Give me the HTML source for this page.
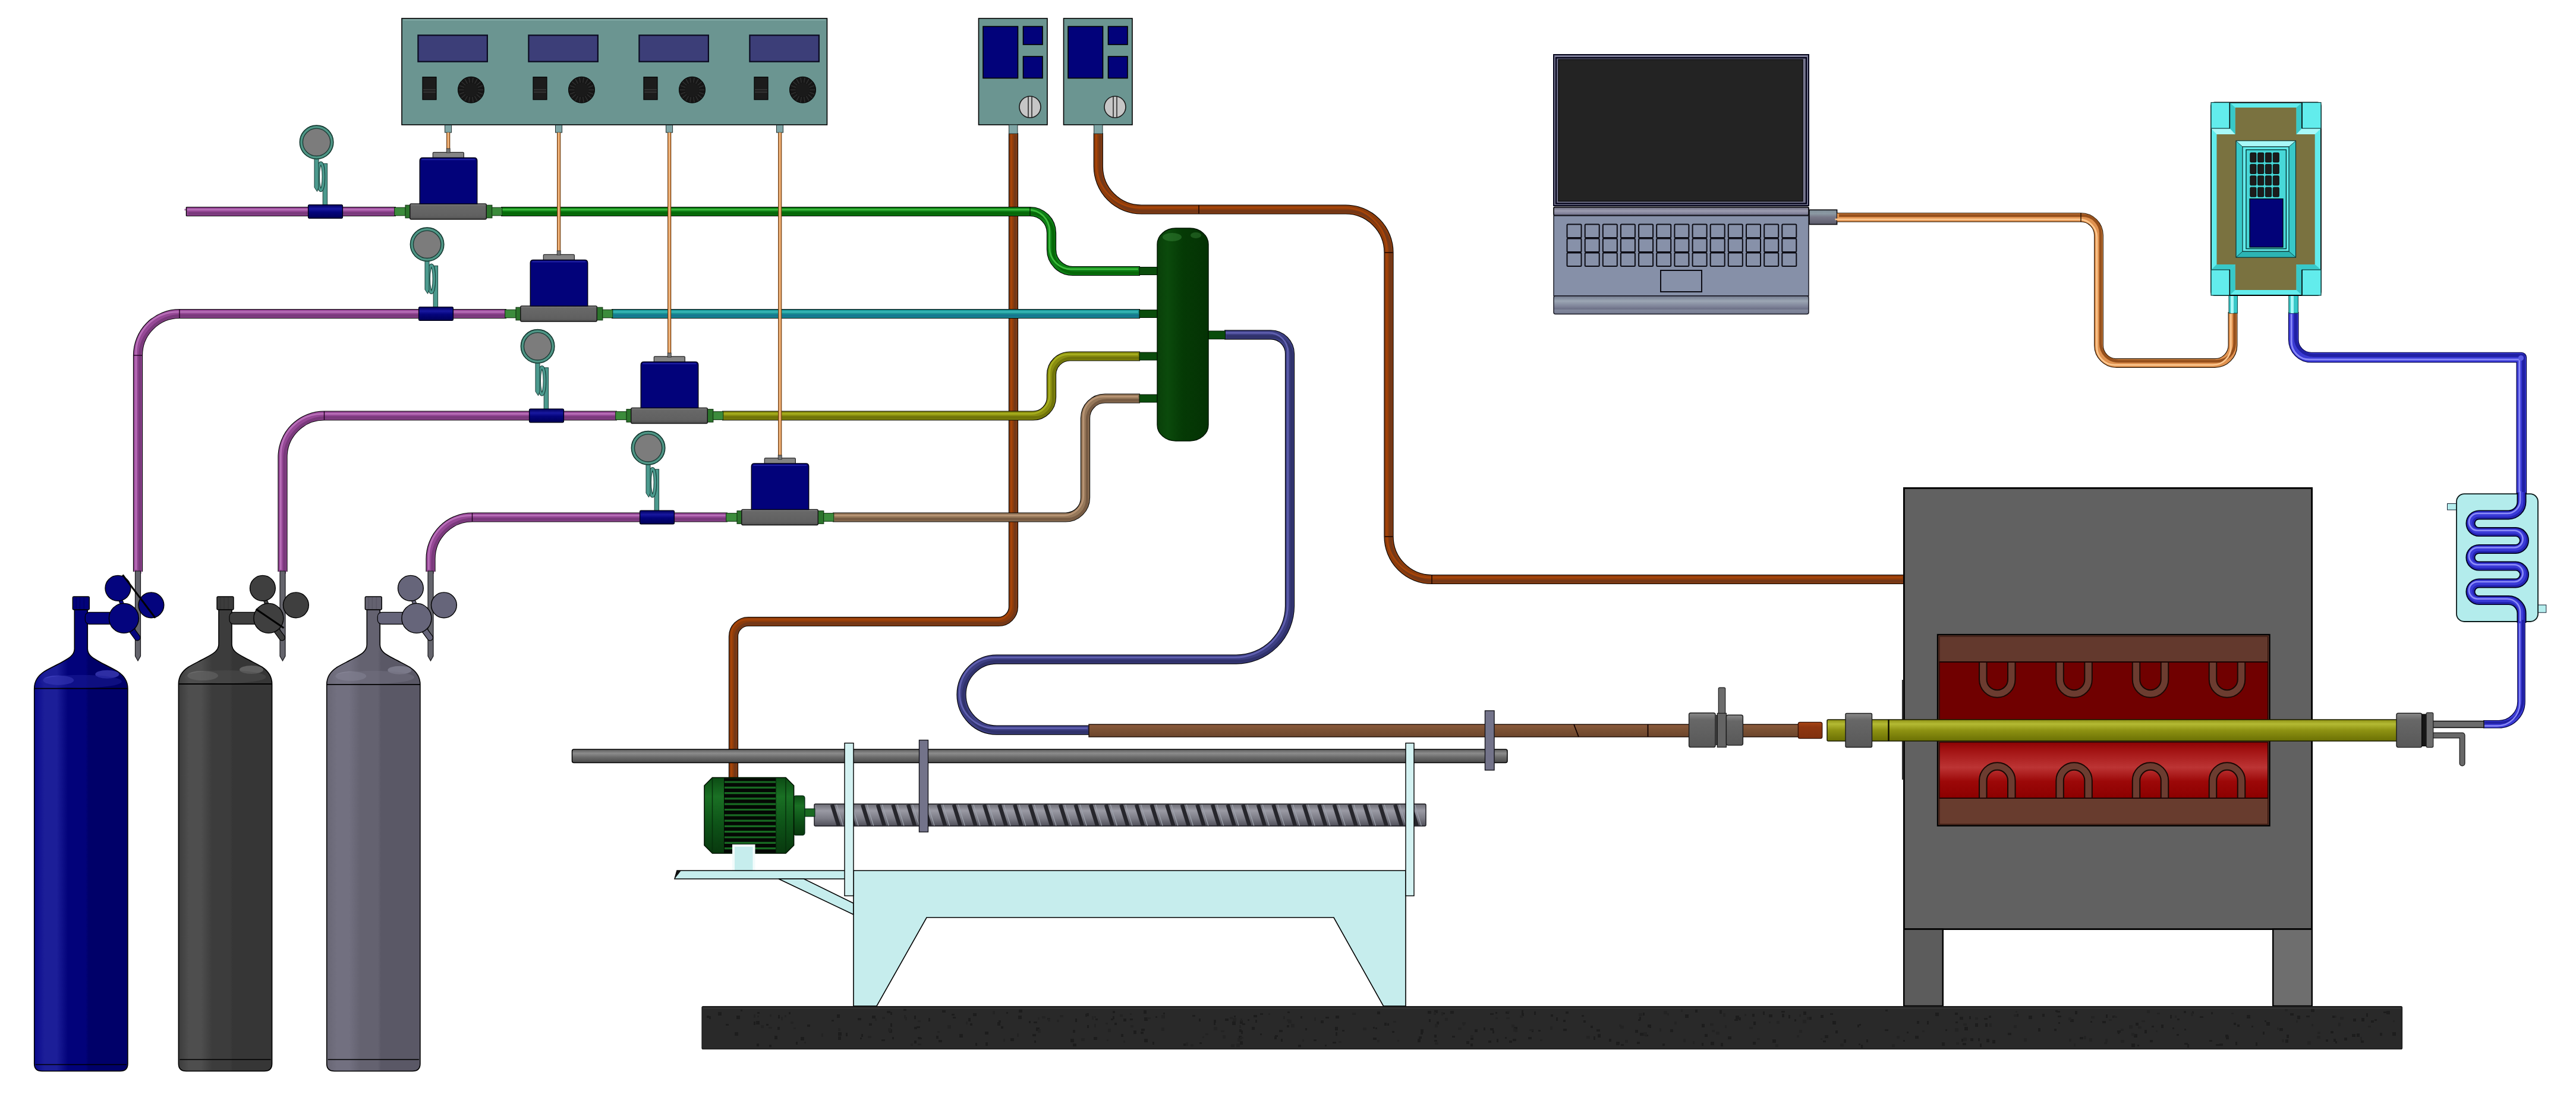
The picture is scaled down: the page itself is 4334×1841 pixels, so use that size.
<!DOCTYPE html>
<html><head><meta charset="utf-8"><title>Experimental setup schematic</title>
<style>html,body{margin:0;padding:0;background:#fff}svg{display:block}</style></head>
<body><svg width="4334" height="1841" viewBox="0 0 4334 1841">
<defs><linearGradient id="gman" x1="0" y1="0" x2="1" y2="0"><stop offset="0" stop-color="#093f09"/><stop offset="0.2" stop-color="#0b4a0c"/><stop offset="0.5" stop-color="#053a05"/><stop offset="1" stop-color="#043204"/></linearGradient><linearGradient id="gbase" x1="0" y1="0" x2="0" y2="1"><stop offset="0" stop-color="#8c8c8c"/><stop offset="0.12" stop-color="#686868"/><stop offset="0.8" stop-color="#606060"/><stop offset="1" stop-color="#505050"/></linearGradient><linearGradient id="gcoup" x1="0" y1="0" x2="0" y2="1"><stop offset="0" stop-color="#00005c"/><stop offset="0.3" stop-color="#1818a0"/><stop offset="0.55" stop-color="#04047c"/><stop offset="1" stop-color="#000058"/></linearGradient><linearGradient id="glapf" x1="0" y1="0" x2="0" y2="1"><stop offset="0" stop-color="#70788c"/><stop offset="0.28" stop-color="#9ca6b4"/><stop offset="0.62" stop-color="#7a7e94"/><stop offset="0.72" stop-color="#6c7086"/><stop offset="0.78" stop-color="#82889c"/><stop offset="1" stop-color="#747a90"/></linearGradient><linearGradient id="ghinge" x1="0" y1="0" x2="0" y2="1"><stop offset="0" stop-color="#6c6c80"/><stop offset="0.45" stop-color="#9c9cb0"/><stop offset="1" stop-color="#70708a"/></linearGradient><linearGradient id="gconn" x1="0" y1="0" x2="0" y2="1"><stop offset="0" stop-color="#7c8a94"/><stop offset="0.25" stop-color="#8c9aa4"/><stop offset="0.5" stop-color="#787888"/><stop offset="1" stop-color="#5c5c6c"/></linearGradient><linearGradient id="gred" x1="0" y1="0" x2="0" y2="1"><stop offset="0" stop-color="#8a0404"/><stop offset="0.12" stop-color="#a01010"/><stop offset="0.45" stop-color="#bc3434"/><stop offset="0.7" stop-color="#9c0808"/><stop offset="1" stop-color="#8c0000"/></linearGradient><linearGradient id="gol" x1="0" y1="0" x2="0" y2="1"><stop offset="0" stop-color="#8c9014"/><stop offset="0.2" stop-color="#b4ba34"/><stop offset="0.5" stop-color="#8e9212"/><stop offset="1" stop-color="#6a7004"/></linearGradient><linearGradient id="ggrey" x1="0" y1="0" x2="0" y2="1"><stop offset="0" stop-color="#8a8a8a"/><stop offset="0.2" stop-color="#676767"/><stop offset="1" stop-color="#585858"/></linearGradient><linearGradient id="gbrn" x1="0" y1="0" x2="0" y2="1"><stop offset="0" stop-color="#8c5a3c"/><stop offset="0.4" stop-color="#7c5234"/><stop offset="1" stop-color="#6c452c"/></linearGradient><linearGradient id="grust" x1="0" y1="0" x2="0" y2="1"><stop offset="0" stop-color="#a84414"/><stop offset="0.3" stop-color="#8e3610"/><stop offset="1" stop-color="#80300e"/></linearGradient><linearGradient id="grail" x1="0" y1="0" x2="0" y2="1"><stop offset="0" stop-color="#5c5c5c"/><stop offset="0.3" stop-color="#8c8c8c"/><stop offset="0.6" stop-color="#6a6a6a"/><stop offset="1" stop-color="#484848"/></linearGradient><linearGradient id="gscr" x1="0" y1="0" x2="0" y2="1"><stop offset="0" stop-color="#6c6c74"/><stop offset="0.3" stop-color="#9a9aa4"/><stop offset="0.65" stop-color="#7c7c86"/><stop offset="1" stop-color="#50505a"/></linearGradient><linearGradient id="gmot" x1="0" y1="0" x2="0" y2="1"><stop offset="0" stop-color="#0c4c14"/><stop offset="0.25" stop-color="#1a7024"/><stop offset="0.6" stop-color="#0e5418"/><stop offset="1" stop-color="#08380e"/></linearGradient><linearGradient id="gc136" x1="0" y1="0" x2="1" y2="0"><stop offset="0" stop-color="#08088c"/><stop offset="0.11" stop-color="#1c1e98"/><stop offset="0.24" stop-color="#1c1e98"/><stop offset="0.36" stop-color="#02027a"/><stop offset="0.55" stop-color="#02027a"/><stop offset="0.58" stop-color="#000069"/><stop offset="1" stop-color="#000069"/></linearGradient><linearGradient id="gc379" x1="0" y1="0" x2="1" y2="0"><stop offset="0" stop-color="#3c3c3c"/><stop offset="0.11" stop-color="#4e4e4e"/><stop offset="0.24" stop-color="#4e4e4e"/><stop offset="0.36" stop-color="#3c3c3c"/><stop offset="0.55" stop-color="#3c3c3c"/><stop offset="0.58" stop-color="#363636"/><stop offset="1" stop-color="#363636"/></linearGradient><linearGradient id="gc628" x1="0" y1="0" x2="1" y2="0"><stop offset="0" stop-color="#686674"/><stop offset="0.11" stop-color="#727080"/><stop offset="0.24" stop-color="#727080"/><stop offset="0.36" stop-color="#646270"/><stop offset="0.55" stop-color="#646270"/><stop offset="0.58" stop-color="#5a5866"/><stop offset="1" stop-color="#5a5866"/></linearGradient></defs>
<rect width="4334" height="1841" fill="#fff"/>
<path d="M1705,224 V1021 A25,25 0 0 1 1680,1046 H1259 A25,25 0 0 0 1234,1071 V1311" fill="none" stroke="#000" stroke-width="16.2" stroke-linecap="butt" stroke-linejoin="round"/>
<path d="M1705,224 V1021 A25,25 0 0 1 1680,1046 H1259 A25,25 0 0 0 1234,1071 V1311" fill="none" stroke="#8c3c0c" stroke-width="14.0" stroke-linecap="butt" stroke-linejoin="round"/>
<path d="M1705,224 V1021 A25,25 0 0 1 1680,1046 H1259 A25,25 0 0 0 1234,1071 V1311" fill="none" stroke="#743818" stroke-width="4.859999999999999" stroke-linecap="butt" stroke-linejoin="round" transform="translate(3.2,3.2)"/>
<path d="M1705,224 V1021 A25,25 0 0 1 1680,1046 H1259 A25,25 0 0 0 1234,1071 V1311" fill="none" stroke="#a64408" stroke-width="2.754" stroke-linecap="butt" stroke-linejoin="round" transform="translate(-3.2,-3.2)"/>
<path d="M1847.8,224 V280 A72.5,72.5 0 0 0 1920.3,352.5 H2264 A72.5,72.5 0 0 1 2336.5,425 V902.5 A72.5,72.5 0 0 0 2409,975 H3204" fill="none" stroke="#000" stroke-width="16.2" stroke-linecap="butt" stroke-linejoin="round"/>
<path d="M1847.8,224 V280 A72.5,72.5 0 0 0 1920.3,352.5 H2264 A72.5,72.5 0 0 1 2336.5,425 V902.5 A72.5,72.5 0 0 0 2409,975 H3204" fill="none" stroke="#8c3c0c" stroke-width="14.0" stroke-linecap="butt" stroke-linejoin="round"/>
<path d="M1847.8,224 V280 A72.5,72.5 0 0 0 1920.3,352.5 H2264 A72.5,72.5 0 0 1 2336.5,425 V902.5 A72.5,72.5 0 0 0 2409,975 H3204" fill="none" stroke="#743818" stroke-width="4.859999999999999" stroke-linecap="butt" stroke-linejoin="round" transform="translate(3.2,3.2)"/>
<path d="M1847.8,224 V280 A72.5,72.5 0 0 0 1920.3,352.5 H2264 A72.5,72.5 0 0 1 2336.5,425 V902.5 A72.5,72.5 0 0 0 2409,975 H3204" fill="none" stroke="#a64408" stroke-width="2.754" stroke-linecap="butt" stroke-linejoin="round" transform="translate(-3.2,-3.2)"/>
<path d="M2017,345.5 V359.5" fill="none" stroke="#200800" stroke-width="1.6"/>
<path d="M2329.5,425 H2343.5" fill="none" stroke="#200800" stroke-width="1.6"/>
<path d="M2329.5,903 H2343.5" fill="none" stroke="#200800" stroke-width="1.6"/>
<path d="M2409,968 V982" fill="none" stroke="#200800" stroke-width="1.6"/>
<path d="M313.5,356 H666" fill="none" stroke="#000" stroke-width="16.2" stroke-linecap="butt" stroke-linejoin="round"/>
<path d="M313.5,356 H666" fill="none" stroke="#964896" stroke-width="14.0" stroke-linecap="butt" stroke-linejoin="round"/>
<path d="M313.5,356 H666" fill="none" stroke="#7a3a7c" stroke-width="4.859999999999999" stroke-linecap="butt" stroke-linejoin="round" transform="translate(3.2,3.2)"/>
<path d="M313.5,356 H666" fill="none" stroke="#b870b8" stroke-width="2.754" stroke-linecap="butt" stroke-linejoin="round" transform="translate(-3.2,-3.2)"/>
<path d="M313.5,348.5 V363.5" fill="none" stroke="#000" stroke-width="1.5"/>
<path d="M232,962 V598 A70,70 0 0 1 302,528 H852" fill="none" stroke="#000" stroke-width="16.2" stroke-linecap="butt" stroke-linejoin="round"/>
<path d="M232,962 V598 A70,70 0 0 1 302,528 H852" fill="none" stroke="#964896" stroke-width="14.0" stroke-linecap="butt" stroke-linejoin="round"/>
<path d="M232,962 V598 A70,70 0 0 1 302,528 H852" fill="none" stroke="#7a3a7c" stroke-width="4.859999999999999" stroke-linecap="butt" stroke-linejoin="round" transform="translate(3.2,3.2)"/>
<path d="M232,962 V598 A70,70 0 0 1 302,528 H852" fill="none" stroke="#b870b8" stroke-width="2.754" stroke-linecap="butt" stroke-linejoin="round" transform="translate(-3.2,-3.2)"/>
<path d="M475.5,962 V769.5 A70,70 0 0 1 545.5,699.5 H1038" fill="none" stroke="#000" stroke-width="16.2" stroke-linecap="butt" stroke-linejoin="round"/>
<path d="M475.5,962 V769.5 A70,70 0 0 1 545.5,699.5 H1038" fill="none" stroke="#964896" stroke-width="14.0" stroke-linecap="butt" stroke-linejoin="round"/>
<path d="M475.5,962 V769.5 A70,70 0 0 1 545.5,699.5 H1038" fill="none" stroke="#7a3a7c" stroke-width="4.859999999999999" stroke-linecap="butt" stroke-linejoin="round" transform="translate(3.2,3.2)"/>
<path d="M475.5,962 V769.5 A70,70 0 0 1 545.5,699.5 H1038" fill="none" stroke="#b870b8" stroke-width="2.754" stroke-linecap="butt" stroke-linejoin="round" transform="translate(-3.2,-3.2)"/>
<path d="M724.5,962 V940.5 A70,70 0 0 1 794.5,870.5 H1224" fill="none" stroke="#000" stroke-width="16.2" stroke-linecap="butt" stroke-linejoin="round"/>
<path d="M724.5,962 V940.5 A70,70 0 0 1 794.5,870.5 H1224" fill="none" stroke="#964896" stroke-width="14.0" stroke-linecap="butt" stroke-linejoin="round"/>
<path d="M724.5,962 V940.5 A70,70 0 0 1 794.5,870.5 H1224" fill="none" stroke="#7a3a7c" stroke-width="4.859999999999999" stroke-linecap="butt" stroke-linejoin="round" transform="translate(3.2,3.2)"/>
<path d="M724.5,962 V940.5 A70,70 0 0 1 794.5,870.5 H1224" fill="none" stroke="#b870b8" stroke-width="2.754" stroke-linecap="butt" stroke-linejoin="round" transform="translate(-3.2,-3.2)"/>
<path d="M302,520.5 V535.5" fill="none" stroke="#200020" stroke-width="1.4"/>
<path d="M224.5,598 H239.5" fill="none" stroke="#200020" stroke-width="1.4"/>
<path d="M545.5,692.0 V707.0" fill="none" stroke="#200020" stroke-width="1.4"/>
<path d="M794.5,863.0 V878.0" fill="none" stroke="#200020" stroke-width="1.4"/>
<path d="M843,356 H1733 A36,36 0 0 1 1769,392 V420 A36,36 0 0 0 1805,456 H1918" fill="none" stroke="#000" stroke-width="16.2" stroke-linecap="butt" stroke-linejoin="round"/>
<path d="M843,356 H1733 A36,36 0 0 1 1769,392 V420 A36,36 0 0 0 1805,456 H1918" fill="none" stroke="#0e7e16" stroke-width="14.0" stroke-linecap="butt" stroke-linejoin="round"/>
<path d="M843,356 H1733 A36,36 0 0 1 1769,392 V420 A36,36 0 0 0 1805,456 H1918" fill="none" stroke="#066808" stroke-width="4.859999999999999" stroke-linecap="butt" stroke-linejoin="round" transform="translate(3.2,3.2)"/>
<path d="M843,356 H1733 A36,36 0 0 1 1769,392 V420 A36,36 0 0 0 1805,456 H1918" fill="none" stroke="#3cbc3c" stroke-width="2.754" stroke-linecap="butt" stroke-linejoin="round" transform="translate(-3.2,-3.2)"/>
<path d="M1733,348.5 V363.5" fill="none" stroke="#002000" stroke-width="1.4"/>
<path d="M1029,528 H1918" fill="none" stroke="#000" stroke-width="16.2" stroke-linecap="butt" stroke-linejoin="round"/>
<path d="M1029,528 H1918" fill="none" stroke="#1c9494" stroke-width="14.0" stroke-linecap="butt" stroke-linejoin="round"/>
<path d="M1029,528 H1918" fill="none" stroke="#167890" stroke-width="4.859999999999999" stroke-linecap="butt" stroke-linejoin="round" transform="translate(3.2,3.2)"/>
<path d="M1029,528 H1918" fill="none" stroke="#38b8b8" stroke-width="2.754" stroke-linecap="butt" stroke-linejoin="round" transform="translate(-3.2,-3.2)"/>
<path d="M1215,699.5 H1738 A31,31 0 0 0 1769,668.5 V630.5 A31,31 0 0 1 1800,599.5 H1918" fill="none" stroke="#000" stroke-width="16.2" stroke-linecap="butt" stroke-linejoin="round"/>
<path d="M1215,699.5 H1738 A31,31 0 0 0 1769,668.5 V630.5 A31,31 0 0 1 1800,599.5 H1918" fill="none" stroke="#8a8e10" stroke-width="14.0" stroke-linecap="butt" stroke-linejoin="round"/>
<path d="M1215,699.5 H1738 A31,31 0 0 0 1769,668.5 V630.5 A31,31 0 0 1 1800,599.5 H1918" fill="none" stroke="#70740a" stroke-width="4.859999999999999" stroke-linecap="butt" stroke-linejoin="round" transform="translate(3.2,3.2)"/>
<path d="M1215,699.5 H1738 A31,31 0 0 0 1769,668.5 V630.5 A31,31 0 0 1 1800,599.5 H1918" fill="none" stroke="#a6ae1e" stroke-width="2.754" stroke-linecap="butt" stroke-linejoin="round" transform="translate(-3.2,-3.2)"/>
<path d="M1401,870.5 H1793 A33,33 0 0 0 1826,837.5 V703.5 A33,33 0 0 1 1859,670.5 H1918" fill="none" stroke="#000" stroke-width="16.2" stroke-linecap="butt" stroke-linejoin="round"/>
<path d="M1401,870.5 H1793 A33,33 0 0 0 1826,837.5 V703.5 A33,33 0 0 1 1859,670.5 H1918" fill="none" stroke="#96785a" stroke-width="14.0" stroke-linecap="butt" stroke-linejoin="round"/>
<path d="M1401,870.5 H1793 A33,33 0 0 0 1826,837.5 V703.5 A33,33 0 0 1 1859,670.5 H1918" fill="none" stroke="#785c44" stroke-width="4.859999999999999" stroke-linecap="butt" stroke-linejoin="round" transform="translate(3.2,3.2)"/>
<path d="M1401,870.5 H1793 A33,33 0 0 0 1826,837.5 V703.5 A33,33 0 0 1 1859,670.5 H1918" fill="none" stroke="#b89474" stroke-width="2.754" stroke-linecap="butt" stroke-linejoin="round" transform="translate(-3.2,-3.2)"/>
<path d="M2060,563.3 H2138 A32,32 0 0 1 2170,595.8 V1020 A90,90 0 0 1 2080,1109.6 H1677 A59.5,59.5 0 0 0 1677,1228.6 H1833" fill="none" stroke="#000" stroke-width="16.2" stroke-linecap="butt" stroke-linejoin="round"/>
<path d="M2060,563.3 H2138 A32,32 0 0 1 2170,595.8 V1020 A90,90 0 0 1 2080,1109.6 H1677 A59.5,59.5 0 0 0 1677,1228.6 H1833" fill="none" stroke="#3c3e82" stroke-width="14.0" stroke-linecap="butt" stroke-linejoin="round"/>
<path d="M2060,563.3 H2138 A32,32 0 0 1 2170,595.8 V1020 A90,90 0 0 1 2080,1109.6 H1677 A59.5,59.5 0 0 0 1677,1228.6 H1833" fill="none" stroke="#30326c" stroke-width="4.859999999999999" stroke-linecap="butt" stroke-linejoin="round" transform="translate(3.2,3.2)"/>
<path d="M2060,563.3 H2138 A32,32 0 0 1 2170,595.8 V1020 A90,90 0 0 1 2080,1109.6 H1677 A59.5,59.5 0 0 0 1677,1228.6 H1833" fill="none" stroke="#6060b0" stroke-width="2.754" stroke-linecap="butt" stroke-linejoin="round" transform="translate(-3.2,-3.2)"/>
<rect x="1917.0" y="449.5" width="31.0" height="13.0" fill="#0a4c0c" stroke="#021802" stroke-width="1"/>
<rect x="1917.0" y="521.5" width="31.0" height="13.0" fill="#0a4c0c" stroke="#021802" stroke-width="1"/>
<rect x="1917.0" y="593.0" width="31.0" height="13.0" fill="#0a4c0c" stroke="#021802" stroke-width="1"/>
<rect x="1917.0" y="664.0" width="31.0" height="13.0" fill="#0a4c0c" stroke="#021802" stroke-width="1"/>
<rect x="2032.0" y="557.0" width="29.5" height="13.6" fill="#0a4c0c" stroke="#021802" stroke-width="1"/>
<rect x="1947" y="384" width="86" height="358" rx="31" ry="27" fill="url(#gman)" stroke="#011401" stroke-width="1.4"/>
<ellipse cx="1972" cy="399" rx="16" ry="7" fill="#3c8c3c" opacity="0.45"/><ellipse cx="2012" cy="396" rx="9" ry="5" fill="#3c8c3c" opacity="0.4"/>
<rect x="676.0" y="31.0" width="715.5" height="179.0" fill="#6b9591" stroke="#000" stroke-width="1.6"/>
<path d="M678.5,33.5 H1389" fill="none" stroke="#8db3af" stroke-width="1.5"/>
<rect x="703.4" y="59.3" width="116.5" height="44.4" fill="#3c3e78" stroke="#0a0a20" stroke-width="2.2"/>
<rect x="711.0" y="129.7" width="23.0" height="38.0" fill="#1c1c1c" stroke="#000" stroke-width="1.2"/>
<path d="M712,151 H733 M712,155 H733" fill="none" stroke="#3a3a3a" stroke-width="1.4"/>
<circle cx="792.5" cy="151.2" r="22.0" fill="#161616" stroke="#000" stroke-width="1"/>
<path d="M804.5,151.2 L813.5,151.2 M803.8,155.3 L812.2,158.4 M801.7,158.9 L808.6,164.7 M798.5,161.6 L803.0,169.4 M794.6,163.0 L796.1,171.9 M790.4,163.0 L788.9,171.9 M786.5,161.6 L782.0,169.4 M783.3,158.9 L776.4,164.7 M781.2,155.3 L772.8,158.4 M780.5,151.2 L771.5,151.2 M781.2,147.1 L772.8,144.0 M783.3,143.5 L776.4,137.7 M786.5,140.8 L782.0,133.0 M790.4,139.4 L788.9,130.5 M794.6,139.4 L796.1,130.5 M798.5,140.8 L803.0,133.0 M801.7,143.5 L808.6,137.7 M803.8,147.1 L812.2,144.0 " fill="none" stroke="#2e2e2e" stroke-width="1.6"/>
<circle cx="792.5" cy="151.2" r="11.5" fill="#1a1a1a"/>
<rect x="748.5" y="210.5" width="11.1" height="12.5" fill="#7fa5a5" stroke="#203030" stroke-width="1"/>
<rect x="889.4" y="59.3" width="116.5" height="44.4" fill="#3c3e78" stroke="#0a0a20" stroke-width="2.2"/>
<rect x="897.0" y="129.7" width="23.0" height="38.0" fill="#1c1c1c" stroke="#000" stroke-width="1.2"/>
<path d="M898,151 H919 M898,155 H919" fill="none" stroke="#3a3a3a" stroke-width="1.4"/>
<circle cx="978.5" cy="151.2" r="22.0" fill="#161616" stroke="#000" stroke-width="1"/>
<path d="M990.5,151.2 L999.5,151.2 M989.8,155.3 L998.2,158.4 M987.7,158.9 L994.6,164.7 M984.5,161.6 L989.0,169.4 M980.6,163.0 L982.1,171.9 M976.4,163.0 L974.9,171.9 M972.5,161.6 L968.0,169.4 M969.3,158.9 L962.4,164.7 M967.2,155.3 L958.8,158.4 M966.5,151.2 L957.5,151.2 M967.2,147.1 L958.8,144.0 M969.3,143.5 L962.4,137.7 M972.5,140.8 L968.0,133.0 M976.4,139.4 L974.9,130.5 M980.6,139.4 L982.1,130.5 M984.5,140.8 L989.0,133.0 M987.7,143.5 L994.6,137.7 M989.8,147.1 L998.2,144.0 " fill="none" stroke="#2e2e2e" stroke-width="1.6"/>
<circle cx="978.5" cy="151.2" r="11.5" fill="#1a1a1a"/>
<rect x="934.5" y="210.5" width="11.1" height="12.5" fill="#7fa5a5" stroke="#203030" stroke-width="1"/>
<rect x="1075.4" y="59.3" width="116.5" height="44.4" fill="#3c3e78" stroke="#0a0a20" stroke-width="2.2"/>
<rect x="1083.0" y="129.7" width="23.0" height="38.0" fill="#1c1c1c" stroke="#000" stroke-width="1.2"/>
<path d="M1084,151 H1105 M1084,155 H1105" fill="none" stroke="#3a3a3a" stroke-width="1.4"/>
<circle cx="1164.5" cy="151.2" r="22.0" fill="#161616" stroke="#000" stroke-width="1"/>
<path d="M1176.5,151.2 L1185.5,151.2 M1175.8,155.3 L1184.2,158.4 M1173.7,158.9 L1180.6,164.7 M1170.5,161.6 L1175.0,169.4 M1166.6,163.0 L1168.1,171.9 M1162.4,163.0 L1160.9,171.9 M1158.5,161.6 L1154.0,169.4 M1155.3,158.9 L1148.4,164.7 M1153.2,155.3 L1144.8,158.4 M1152.5,151.2 L1143.5,151.2 M1153.2,147.1 L1144.8,144.0 M1155.3,143.5 L1148.4,137.7 M1158.5,140.8 L1154.0,133.0 M1162.4,139.4 L1160.9,130.5 M1166.6,139.4 L1168.1,130.5 M1170.5,140.8 L1175.0,133.0 M1173.7,143.5 L1180.6,137.7 M1175.8,147.1 L1184.2,144.0 " fill="none" stroke="#2e2e2e" stroke-width="1.6"/>
<circle cx="1164.5" cy="151.2" r="11.5" fill="#1a1a1a"/>
<rect x="1120.5" y="210.5" width="11.1" height="12.5" fill="#7fa5a5" stroke="#203030" stroke-width="1"/>
<rect x="1261.4" y="59.3" width="116.5" height="44.4" fill="#3c3e78" stroke="#0a0a20" stroke-width="2.2"/>
<rect x="1269.0" y="129.7" width="23.0" height="38.0" fill="#1c1c1c" stroke="#000" stroke-width="1.2"/>
<path d="M1270,151 H1291 M1270,155 H1291" fill="none" stroke="#3a3a3a" stroke-width="1.4"/>
<circle cx="1350.5" cy="151.2" r="22.0" fill="#161616" stroke="#000" stroke-width="1"/>
<path d="M1362.5,151.2 L1371.5,151.2 M1361.8,155.3 L1370.2,158.4 M1359.7,158.9 L1366.6,164.7 M1356.5,161.6 L1361.0,169.4 M1352.6,163.0 L1354.1,171.9 M1348.4,163.0 L1346.9,171.9 M1344.5,161.6 L1340.0,169.4 M1341.3,158.9 L1334.4,164.7 M1339.2,155.3 L1330.8,158.4 M1338.5,151.2 L1329.5,151.2 M1339.2,147.1 L1330.8,144.0 M1341.3,143.5 L1334.4,137.7 M1344.5,140.8 L1340.0,133.0 M1348.4,139.4 L1346.9,130.5 M1352.6,139.4 L1354.1,130.5 M1356.5,140.8 L1361.0,133.0 M1359.7,143.5 L1366.6,137.7 M1361.8,147.1 L1370.2,144.0 " fill="none" stroke="#2e2e2e" stroke-width="1.6"/>
<circle cx="1350.5" cy="151.2" r="11.5" fill="#1a1a1a"/>
<rect x="1306.5" y="210.5" width="11.1" height="12.5" fill="#7fa5a5" stroke="#203030" stroke-width="1"/>
<rect x="1646.5" y="31.0" width="115.5" height="179.0" fill="#6b9591" stroke="#000" stroke-width="1.6"/>
<rect x="1654.0" y="44.5" width="58.5" height="87.0" fill="#02027a" stroke="#000" stroke-width="1.6"/>
<rect x="1721.5" y="44.5" width="32.5" height="30.5" fill="#02027a" stroke="#000" stroke-width="1.6"/>
<rect x="1721.5" y="95.0" width="32.5" height="36.5" fill="#02027a" stroke="#000" stroke-width="1.6"/>
<circle cx="1733.0" cy="180.0" r="18.0" fill="#c6c6c6" stroke="#1a1a1a" stroke-width="1.6"/>
<path d="M1730.0,163 V197 M1736.0,163 V197" fill="none" stroke="#222" stroke-width="1.5"/>
<rect x="1697.5" y="210.0" width="14.5" height="15.0" fill="#7fa5a5" stroke="#203030" stroke-width="1"/>
<rect x="1789.5" y="31.0" width="115.5" height="179.0" fill="#6b9591" stroke="#000" stroke-width="1.6"/>
<rect x="1797.0" y="44.5" width="58.5" height="87.0" fill="#02027a" stroke="#000" stroke-width="1.6"/>
<rect x="1864.5" y="44.5" width="32.5" height="30.5" fill="#02027a" stroke="#000" stroke-width="1.6"/>
<rect x="1864.5" y="95.0" width="32.5" height="36.5" fill="#02027a" stroke="#000" stroke-width="1.6"/>
<circle cx="1876.0" cy="180.0" r="18.0" fill="#c6c6c6" stroke="#1a1a1a" stroke-width="1.6"/>
<path d="M1873.0,163 V197 M1879.0,163 V197" fill="none" stroke="#222" stroke-width="1.5"/>
<rect x="1840.5" y="210.0" width="14.5" height="15.0" fill="#7fa5a5" stroke="#203030" stroke-width="1"/>
<rect x="663.7" y="349.2" width="18.6" height="13.6" fill="#3c8c3c" stroke="#0c300c" stroke-width="1"/>
<rect x="682.0" y="345.2" width="7.8" height="21.6" fill="#2c742c" stroke="#0c300c" stroke-width="1"/>
<rect x="818.3" y="345.2" width="9.6" height="21.6" fill="#2c742c" stroke="#0c300c" stroke-width="1"/>
<rect x="827.7" y="349.2" width="17.1" height="13.6" fill="#3c8c3c" stroke="#0c300c" stroke-width="1"/>
<rect x="689.8" y="342.9" width="128.5" height="26.1" fill="url(#gbase)" stroke="#111" stroke-width="1.4" rx="2"/>
<rect x="728.3" y="256.4" width="52.1" height="10.6" fill="#858585" stroke="#222" stroke-width="1.2" rx="1.5"/>
<path d="M706.3,342.9 V270.6 Q706.3,265.6 711.3,265.6 H797.6999999999999 Q802.6999999999999,265.6 802.6999999999999,270.6 V342.9 Z" fill="#02027a" stroke="#000018" stroke-width="1.5"/>
<path d="M709.3,268.5 H799.3" fill="none" stroke="#2a2ab0" stroke-width="1.6"/>
<rect x="543.2" y="275.3" width="7.4" height="70.7" fill="#4c9a8e" stroke="#163c36" stroke-width="1"/>
<ellipse cx="539.8" cy="297.3" rx="4.6" ry="23" fill="none" stroke="#163c36" stroke-width="5.6"/>
<ellipse cx="539.8" cy="297.3" rx="4.6" ry="23" fill="none" stroke="#4c9a8e" stroke-width="3.6"/>
<path d="M528.9999999999999,265.3 V315.3 L533.5999999999999,322.3 L535.9999999999999,315.3 V265.3 Z" fill="#4c9a8e" stroke="#163c36" stroke-width="1"/>
<circle cx="532.6" cy="239.3" r="28.2" fill="#4f9686" stroke="#143830" stroke-width="1.6"/>
<circle cx="532.6" cy="239.3" r="23.2" fill="#7c7c7c" stroke="#1c3c36" stroke-width="1.4"/>
<rect x="518.6" y="344.6" width="57.8" height="22.6" fill="url(#gcoup)" stroke="#000018" stroke-width="1.4" rx="2"/>
<rect x="849.7" y="521.2" width="18.6" height="13.6" fill="#3c8c3c" stroke="#0c300c" stroke-width="1"/>
<rect x="868.0" y="517.2" width="7.8" height="21.6" fill="#2c742c" stroke="#0c300c" stroke-width="1"/>
<rect x="1004.3" y="517.2" width="9.6" height="21.6" fill="#2c742c" stroke="#0c300c" stroke-width="1"/>
<rect x="1013.7" y="521.2" width="17.1" height="13.6" fill="#3c8c3c" stroke="#0c300c" stroke-width="1"/>
<rect x="875.8" y="514.9" width="128.5" height="26.1" fill="url(#gbase)" stroke="#111" stroke-width="1.4" rx="2"/>
<rect x="914.3" y="428.4" width="52.1" height="10.6" fill="#858585" stroke="#222" stroke-width="1.2" rx="1.5"/>
<path d="M892.3,514.9 V442.6 Q892.3,437.6 897.3,437.6 H983.6999999999999 Q988.6999999999999,437.6 988.6999999999999,442.6 V514.9 Z" fill="#02027a" stroke="#000018" stroke-width="1.5"/>
<path d="M895.3,440.5 H985.3" fill="none" stroke="#2a2ab0" stroke-width="1.6"/>
<rect x="729.2" y="447.3" width="7.4" height="70.7" fill="#4c9a8e" stroke="#163c36" stroke-width="1"/>
<ellipse cx="725.8" cy="469.3" rx="4.6" ry="23" fill="none" stroke="#163c36" stroke-width="5.6"/>
<ellipse cx="725.8" cy="469.3" rx="4.6" ry="23" fill="none" stroke="#4c9a8e" stroke-width="3.6"/>
<path d="M714.9999999999999,437.3 V487.3 L719.5999999999999,494.3 L721.9999999999999,487.3 V437.3 Z" fill="#4c9a8e" stroke="#163c36" stroke-width="1"/>
<circle cx="718.6" cy="411.3" r="28.2" fill="#4f9686" stroke="#143830" stroke-width="1.6"/>
<circle cx="718.6" cy="411.3" r="23.2" fill="#7c7c7c" stroke="#1c3c36" stroke-width="1.4"/>
<rect x="704.6" y="516.6" width="57.8" height="22.6" fill="url(#gcoup)" stroke="#000018" stroke-width="1.4" rx="2"/>
<rect x="1035.7" y="692.7" width="18.6" height="13.6" fill="#3c8c3c" stroke="#0c300c" stroke-width="1"/>
<rect x="1054.0" y="688.7" width="7.8" height="21.6" fill="#2c742c" stroke="#0c300c" stroke-width="1"/>
<rect x="1190.3" y="688.7" width="9.6" height="21.6" fill="#2c742c" stroke="#0c300c" stroke-width="1"/>
<rect x="1199.7" y="692.7" width="17.1" height="13.6" fill="#3c8c3c" stroke="#0c300c" stroke-width="1"/>
<rect x="1061.8" y="686.4" width="128.5" height="26.1" fill="url(#gbase)" stroke="#111" stroke-width="1.4" rx="2"/>
<rect x="1100.3" y="599.9" width="52.1" height="10.6" fill="#858585" stroke="#222" stroke-width="1.2" rx="1.5"/>
<path d="M1078.3,686.4 V614.1 Q1078.3,609.1 1083.3,609.1 H1169.7 Q1174.7,609.1 1174.7,614.1 V686.4 Z" fill="#02027a" stroke="#000018" stroke-width="1.5"/>
<path d="M1081.3,612.0 H1171.3" fill="none" stroke="#2a2ab0" stroke-width="1.6"/>
<rect x="915.2" y="618.8" width="7.4" height="70.7" fill="#4c9a8e" stroke="#163c36" stroke-width="1"/>
<ellipse cx="911.8" cy="640.8" rx="4.6" ry="23" fill="none" stroke="#163c36" stroke-width="5.6"/>
<ellipse cx="911.8" cy="640.8" rx="4.6" ry="23" fill="none" stroke="#4c9a8e" stroke-width="3.6"/>
<path d="M900.9999999999999,608.8 V658.8 L905.5999999999999,665.8 L907.9999999999999,658.8 V608.8 Z" fill="#4c9a8e" stroke="#163c36" stroke-width="1"/>
<circle cx="904.6" cy="582.8" r="28.2" fill="#4f9686" stroke="#143830" stroke-width="1.6"/>
<circle cx="904.6" cy="582.8" r="23.2" fill="#7c7c7c" stroke="#1c3c36" stroke-width="1.4"/>
<rect x="890.6" y="688.1" width="57.8" height="22.6" fill="url(#gcoup)" stroke="#000018" stroke-width="1.4" rx="2"/>
<rect x="1221.7" y="863.7" width="18.6" height="13.6" fill="#3c8c3c" stroke="#0c300c" stroke-width="1"/>
<rect x="1240.0" y="859.7" width="7.8" height="21.6" fill="#2c742c" stroke="#0c300c" stroke-width="1"/>
<rect x="1376.3" y="859.7" width="9.6" height="21.6" fill="#2c742c" stroke="#0c300c" stroke-width="1"/>
<rect x="1385.7" y="863.7" width="17.1" height="13.6" fill="#3c8c3c" stroke="#0c300c" stroke-width="1"/>
<rect x="1247.8" y="857.4" width="128.5" height="26.1" fill="url(#gbase)" stroke="#111" stroke-width="1.4" rx="2"/>
<rect x="1286.3" y="770.9" width="52.1" height="10.6" fill="#858585" stroke="#222" stroke-width="1.2" rx="1.5"/>
<path d="M1264.3,857.4 V785.1 Q1264.3,780.1 1269.3,780.1 H1355.7 Q1360.7,780.1 1360.7,785.1 V857.4 Z" fill="#02027a" stroke="#000018" stroke-width="1.5"/>
<path d="M1267.3,783.0 H1357.3" fill="none" stroke="#2a2ab0" stroke-width="1.6"/>
<rect x="1101.2" y="789.8" width="7.4" height="70.7" fill="#4c9a8e" stroke="#163c36" stroke-width="1"/>
<ellipse cx="1097.8" cy="811.8" rx="4.6" ry="23" fill="none" stroke="#163c36" stroke-width="5.6"/>
<ellipse cx="1097.8" cy="811.8" rx="4.6" ry="23" fill="none" stroke="#4c9a8e" stroke-width="3.6"/>
<path d="M1087.0,779.8 V829.8 L1091.6,836.8 L1094.0,829.8 V779.8 Z" fill="#4c9a8e" stroke="#163c36" stroke-width="1"/>
<circle cx="1090.6" cy="753.8" r="28.2" fill="#4f9686" stroke="#143830" stroke-width="1.6"/>
<circle cx="1090.6" cy="753.8" r="23.2" fill="#7c7c7c" stroke="#1c3c36" stroke-width="1.4"/>
<rect x="1076.6" y="859.1" width="57.8" height="22.6" fill="url(#gcoup)" stroke="#000018" stroke-width="1.4" rx="2"/>
<path d="M754.2,223 V250" fill="none" stroke="#5a3410" stroke-width="6.2"/>
<path d="M754.2,223 V250" fill="none" stroke="#d88a48" stroke-width="4.4"/>
<path d="M754.2,223 V250" fill="none" stroke="#f6c898" stroke-width="1.6"/>
<rect x="751.2" y="250.0" width="6.0" height="7.0" fill="#777" stroke="#222" stroke-width="0.8"/>
<path d="M940.2,223 V422" fill="none" stroke="#5a3410" stroke-width="6.2"/>
<path d="M940.2,223 V422" fill="none" stroke="#d88a48" stroke-width="4.4"/>
<path d="M940.2,223 V422" fill="none" stroke="#f6c898" stroke-width="1.6"/>
<rect x="937.2" y="422.0" width="6.0" height="7.0" fill="#777" stroke="#222" stroke-width="0.8"/>
<path d="M1126.2,223 V594" fill="none" stroke="#5a3410" stroke-width="6.2"/>
<path d="M1126.2,223 V594" fill="none" stroke="#d88a48" stroke-width="4.4"/>
<path d="M1126.2,223 V594" fill="none" stroke="#f6c898" stroke-width="1.6"/>
<rect x="1123.2" y="594.0" width="6.0" height="7.0" fill="#777" stroke="#222" stroke-width="0.8"/>
<path d="M1312.2,223 V766" fill="none" stroke="#5a3410" stroke-width="6.2"/>
<path d="M1312.2,223 V766" fill="none" stroke="#d88a48" stroke-width="4.4"/>
<path d="M1312.2,223 V766" fill="none" stroke="#f6c898" stroke-width="1.6"/>
<rect x="1309.2" y="766.0" width="6.0" height="7.0" fill="#777" stroke="#222" stroke-width="0.8"/>
<rect x="2614.0" y="92.0" width="429.0" height="254.0" fill="#7e7e98" stroke="#04041a" stroke-width="2"/>
<rect x="2618.0" y="97.2" width="421.0" height="245.3" fill="#76768e" stroke="#04041a" stroke-width="2.4"/>
<rect x="2622.0" y="100.2" width="411.0" height="238.4" fill="#232323" stroke="#0a0a0a" stroke-width="1.4"/>
<rect x="2614.0" y="348.5" width="429.0" height="13.9" fill="url(#ghinge)" stroke="#08080c" stroke-width="1.8" rx="2"/>
<rect x="2614.0" y="363.0" width="429.0" height="135.0" fill="#8690a8" stroke="#1a1a24" stroke-width="1.5"/>
<rect x="2636.5" y="377.5" width="24.0" height="22.5" fill="#8791a9" stroke="#0c0c14" stroke-width="2" rx="1.5"/>
<rect x="2636.5" y="401.5" width="24.0" height="22.5" fill="#8791a9" stroke="#0c0c14" stroke-width="2" rx="1.5"/>
<rect x="2636.5" y="425.5" width="24.0" height="22.5" fill="#8791a9" stroke="#0c0c14" stroke-width="2" rx="1.5"/>
<rect x="2666.7" y="377.5" width="24.0" height="22.5" fill="#8791a9" stroke="#0c0c14" stroke-width="2" rx="1.5"/>
<rect x="2666.7" y="401.5" width="24.0" height="22.5" fill="#8791a9" stroke="#0c0c14" stroke-width="2" rx="1.5"/>
<rect x="2666.7" y="425.5" width="24.0" height="22.5" fill="#8791a9" stroke="#0c0c14" stroke-width="2" rx="1.5"/>
<rect x="2696.8" y="377.5" width="24.0" height="22.5" fill="#8791a9" stroke="#0c0c14" stroke-width="2" rx="1.5"/>
<rect x="2696.8" y="401.5" width="24.0" height="22.5" fill="#8791a9" stroke="#0c0c14" stroke-width="2" rx="1.5"/>
<rect x="2696.8" y="425.5" width="24.0" height="22.5" fill="#8791a9" stroke="#0c0c14" stroke-width="2" rx="1.5"/>
<rect x="2726.9" y="377.5" width="24.0" height="22.5" fill="#8791a9" stroke="#0c0c14" stroke-width="2" rx="1.5"/>
<rect x="2726.9" y="401.5" width="24.0" height="22.5" fill="#8791a9" stroke="#0c0c14" stroke-width="2" rx="1.5"/>
<rect x="2726.9" y="425.5" width="24.0" height="22.5" fill="#8791a9" stroke="#0c0c14" stroke-width="2" rx="1.5"/>
<rect x="2757.1" y="377.5" width="24.0" height="22.5" fill="#8791a9" stroke="#0c0c14" stroke-width="2" rx="1.5"/>
<rect x="2757.1" y="401.5" width="24.0" height="22.5" fill="#8791a9" stroke="#0c0c14" stroke-width="2" rx="1.5"/>
<rect x="2757.1" y="425.5" width="24.0" height="22.5" fill="#8791a9" stroke="#0c0c14" stroke-width="2" rx="1.5"/>
<rect x="2787.2" y="377.5" width="24.0" height="22.5" fill="#8791a9" stroke="#0c0c14" stroke-width="2" rx="1.5"/>
<rect x="2787.2" y="401.5" width="24.0" height="22.5" fill="#8791a9" stroke="#0c0c14" stroke-width="2" rx="1.5"/>
<rect x="2787.2" y="425.5" width="24.0" height="22.5" fill="#8791a9" stroke="#0c0c14" stroke-width="2" rx="1.5"/>
<rect x="2817.4" y="377.5" width="24.0" height="22.5" fill="#8791a9" stroke="#0c0c14" stroke-width="2" rx="1.5"/>
<rect x="2817.4" y="401.5" width="24.0" height="22.5" fill="#8791a9" stroke="#0c0c14" stroke-width="2" rx="1.5"/>
<rect x="2817.4" y="425.5" width="24.0" height="22.5" fill="#8791a9" stroke="#0c0c14" stroke-width="2" rx="1.5"/>
<rect x="2847.6" y="377.5" width="24.0" height="22.5" fill="#8791a9" stroke="#0c0c14" stroke-width="2" rx="1.5"/>
<rect x="2847.6" y="401.5" width="24.0" height="22.5" fill="#8791a9" stroke="#0c0c14" stroke-width="2" rx="1.5"/>
<rect x="2847.6" y="425.5" width="24.0" height="22.5" fill="#8791a9" stroke="#0c0c14" stroke-width="2" rx="1.5"/>
<rect x="2877.7" y="377.5" width="24.0" height="22.5" fill="#8791a9" stroke="#0c0c14" stroke-width="2" rx="1.5"/>
<rect x="2877.7" y="401.5" width="24.0" height="22.5" fill="#8791a9" stroke="#0c0c14" stroke-width="2" rx="1.5"/>
<rect x="2877.7" y="425.5" width="24.0" height="22.5" fill="#8791a9" stroke="#0c0c14" stroke-width="2" rx="1.5"/>
<rect x="2907.8" y="377.5" width="24.0" height="22.5" fill="#8791a9" stroke="#0c0c14" stroke-width="2" rx="1.5"/>
<rect x="2907.8" y="401.5" width="24.0" height="22.5" fill="#8791a9" stroke="#0c0c14" stroke-width="2" rx="1.5"/>
<rect x="2907.8" y="425.5" width="24.0" height="22.5" fill="#8791a9" stroke="#0c0c14" stroke-width="2" rx="1.5"/>
<rect x="2938.0" y="377.5" width="24.0" height="22.5" fill="#8791a9" stroke="#0c0c14" stroke-width="2" rx="1.5"/>
<rect x="2938.0" y="401.5" width="24.0" height="22.5" fill="#8791a9" stroke="#0c0c14" stroke-width="2" rx="1.5"/>
<rect x="2938.0" y="425.5" width="24.0" height="22.5" fill="#8791a9" stroke="#0c0c14" stroke-width="2" rx="1.5"/>
<rect x="2968.2" y="377.5" width="24.0" height="22.5" fill="#8791a9" stroke="#0c0c14" stroke-width="2" rx="1.5"/>
<rect x="2968.2" y="401.5" width="24.0" height="22.5" fill="#8791a9" stroke="#0c0c14" stroke-width="2" rx="1.5"/>
<rect x="2968.2" y="425.5" width="24.0" height="22.5" fill="#8791a9" stroke="#0c0c14" stroke-width="2" rx="1.5"/>
<rect x="2998.3" y="377.5" width="24.0" height="22.5" fill="#8791a9" stroke="#0c0c14" stroke-width="2" rx="1.5"/>
<rect x="2998.3" y="401.5" width="24.0" height="22.5" fill="#8791a9" stroke="#0c0c14" stroke-width="2" rx="1.5"/>
<rect x="2998.3" y="425.5" width="24.0" height="22.5" fill="#8791a9" stroke="#0c0c14" stroke-width="2" rx="1.5"/>
<rect x="2794.0" y="455.0" width="69.0" height="36.0" fill="#8791a9" stroke="#0c0c14" stroke-width="2"/>
<rect x="2614.0" y="498.0" width="429.0" height="30.5" fill="url(#glapf)" stroke="#1a1a24" stroke-width="1.5" rx="3"/>
<rect x="3044.0" y="353.2" width="46.6" height="24.4" fill="url(#gconn)" stroke="#08080c" stroke-width="1.6"/>
<path d="M3090.8,365.9 H3501 A30,30 0 0 1 3531,395.8 V581 A30,30 0 0 0 3561,611 H3726.5 A30,30 0 0 0 3756.5,581 V525" fill="none" stroke="#201000" stroke-width="15.8" stroke-linecap="butt" stroke-linejoin="round"/>
<path d="M3090.8,365.9 H3501 A30,30 0 0 1 3531,395.8 V581 A30,30 0 0 0 3561,611 H3726.5 A30,30 0 0 0 3756.5,581 V525" fill="none" stroke="#e09250" stroke-width="13.600000000000001" stroke-linecap="butt" stroke-linejoin="round"/>
<path d="M3090.8,365.9 H3501 A30,30 0 0 1 3531,395.8 V581 A30,30 0 0 0 3561,611 H3726.5 A30,30 0 0 0 3756.5,581 V525" fill="none" stroke="#96501c" stroke-width="4.74" stroke-linecap="butt" stroke-linejoin="round" transform="translate(3.2,-3.2)"/>
<path d="M3090.8,365.9 H3501 A30,30 0 0 1 3531,395.8 V581 A30,30 0 0 0 3561,611 H3726.5 A30,30 0 0 0 3756.5,581 V525" fill="none" stroke="#fcc890" stroke-width="2.6860000000000004" stroke-linecap="butt" stroke-linejoin="round" transform="translate(-3.2,3.2)"/>
<path d="M3501,358 V373.5" fill="none" stroke="#201000" stroke-width="1.4"/>
<path d="M3858.7,525 V571.5 A30,30 0 0 0 3888.7,601.5 H4242.3 V832" fill="none" stroke="#00003c" stroke-width="17.6" stroke-linecap="butt" stroke-linejoin="round"/>
<path d="M3858.7,525 V571.5 A30,30 0 0 0 3888.7,601.5 H4242.3 V832" fill="none" stroke="#3a3ad4" stroke-width="15.400000000000002" stroke-linecap="butt" stroke-linejoin="round"/>
<path d="M3858.7,525 V571.5 A30,30 0 0 0 3888.7,601.5 H4242.3 V832" fill="none" stroke="#2020a4" stroke-width="5.28" stroke-linecap="butt" stroke-linejoin="round" transform="translate(3.5,-3.5)"/>
<path d="M3858.7,525 V571.5 A30,30 0 0 0 3888.7,601.5 H4242.3 V832" fill="none" stroke="#8888f8" stroke-width="2.9920000000000004" stroke-linecap="butt" stroke-linejoin="round" transform="translate(-3.5,3.5)"/>
<circle cx="4241.5" cy="602.5" r="4.5" fill="#5a5ae4"/>
<rect x="3750.0" y="495.0" width="14.4" height="32.0" fill="#38c8c8" stroke="#0a4040" stroke-width="1"/>
<rect x="3850.8" y="495.0" width="15.7" height="32.0" fill="#38c8c8" stroke="#0a4040" stroke-width="1"/>
<rect x="3753.0" y="495.0" width="5.0" height="32.0" fill="#a8f8f8"/>
<rect x="3854.0" y="495.0" width="5.0" height="32.0" fill="#a8f8f8"/>
<rect x="3720.0" y="172.5" width="185.0" height="324.5" fill="#62ecec" stroke="#000" stroke-width="1.8" rx="6"/>
<rect x="3760.5" y="181.0" width="103.1" height="307.0" fill="#7a7240"/>
<rect x="3729.5" y="226.0" width="165.2" height="219.0" fill="#7a7240"/>
<path d="M3751.4,172.5 L3760.5,181 V226 L3751.4,216 Z" fill="#38c8c8"/>
<path d="M3873,172.5 L3863.6,181 V226 L3873,216 Z" fill="#38c8c8"/>
<path d="M3751.4,497 L3760.5,488 V445 L3751.4,454 Z" fill="#38c8c8"/>
<path d="M3873,497 L3863.6,488 V445 L3873,454 Z" fill="#38c8c8"/>
<path d="M3720,216 L3729.5,226 H3760.5 L3751.4,216 Z" fill="#a8f8f8"/>
<path d="M3905,216 L3894.7,226 H3863.6 L3873,216 Z" fill="#a8f8f8"/>
<path d="M3720,454 L3729.5,445 H3760.5 L3751.4,454 Z" fill="#38c8c8"/>
<path d="M3905,454 L3894.7,445 H3863.6 L3873,454 Z" fill="#38c8c8"/>
<rect x="3720.0" y="172.5" width="31.4" height="43.5" fill="#62ecec" stroke="#0a3a3a" stroke-width="1.2"/>
<rect x="3873.0" y="172.5" width="32.0" height="43.5" fill="#62ecec" stroke="#0a3a3a" stroke-width="1.2"/>
<rect x="3720.0" y="454.0" width="31.4" height="43.0" fill="#62ecec" stroke="#0a3a3a" stroke-width="1.2"/>
<rect x="3873.0" y="454.0" width="32.0" height="43.0" fill="#62ecec" stroke="#0a3a3a" stroke-width="1.2"/>
<path d="M3751.4,172.5 V216 M3873,172.5 V216 M3751.4,454 V497 M3873,454 V497" fill="none" stroke="#000" stroke-width="1.4"/>
<rect x="3762.0" y="237.0" width="100.5" height="196.0" fill="#38c8c8" stroke="#0a3030" stroke-width="1.2"/>
<path d="M3762,237 L3773,247 H3851 L3862.5,237 Z" fill="#a8f8f8" stroke="#0a3030" stroke-width="0.8"/>
<path d="M3762,433 L3773,423 H3851 L3862.5,433 Z" fill="#2cb4b4" stroke="#0a3030" stroke-width="0.8"/>
<rect x="3773.0" y="247.0" width="78.0" height="176.0" fill="#62ecec" stroke="#0a3030" stroke-width="1.2"/>
<rect x="3779.0" y="252.0" width="67.4" height="166.6" fill="#48d8d8" stroke="#003030" stroke-width="1.4"/>
<rect x="3785.8" y="257.0" width="10.2" height="16.0" fill="#1c1c1c" stroke="#000" stroke-width="0.8" rx="1.5"/>
<rect x="3798.6" y="257.0" width="10.2" height="16.0" fill="#1c1c1c" stroke="#000" stroke-width="0.8" rx="1.5"/>
<rect x="3811.4" y="257.0" width="10.2" height="16.0" fill="#1c1c1c" stroke="#000" stroke-width="0.8" rx="1.5"/>
<rect x="3824.2" y="257.0" width="10.2" height="16.0" fill="#1c1c1c" stroke="#000" stroke-width="0.8" rx="1.5"/>
<rect x="3785.8" y="276.4" width="10.2" height="16.0" fill="#1c1c1c" stroke="#000" stroke-width="0.8" rx="1.5"/>
<rect x="3798.6" y="276.4" width="10.2" height="16.0" fill="#1c1c1c" stroke="#000" stroke-width="0.8" rx="1.5"/>
<rect x="3811.4" y="276.4" width="10.2" height="16.0" fill="#1c1c1c" stroke="#000" stroke-width="0.8" rx="1.5"/>
<rect x="3824.2" y="276.4" width="10.2" height="16.0" fill="#1c1c1c" stroke="#000" stroke-width="0.8" rx="1.5"/>
<rect x="3785.8" y="295.8" width="10.2" height="16.0" fill="#1c1c1c" stroke="#000" stroke-width="0.8" rx="1.5"/>
<rect x="3798.6" y="295.8" width="10.2" height="16.0" fill="#1c1c1c" stroke="#000" stroke-width="0.8" rx="1.5"/>
<rect x="3811.4" y="295.8" width="10.2" height="16.0" fill="#1c1c1c" stroke="#000" stroke-width="0.8" rx="1.5"/>
<rect x="3824.2" y="295.8" width="10.2" height="16.0" fill="#1c1c1c" stroke="#000" stroke-width="0.8" rx="1.5"/>
<rect x="3785.8" y="315.2" width="10.2" height="16.0" fill="#1c1c1c" stroke="#000" stroke-width="0.8" rx="1.5"/>
<rect x="3798.6" y="315.2" width="10.2" height="16.0" fill="#1c1c1c" stroke="#000" stroke-width="0.8" rx="1.5"/>
<rect x="3811.4" y="315.2" width="10.2" height="16.0" fill="#1c1c1c" stroke="#000" stroke-width="0.8" rx="1.5"/>
<rect x="3824.2" y="315.2" width="10.2" height="16.0" fill="#1c1c1c" stroke="#000" stroke-width="0.8" rx="1.5"/>
<rect x="3785.0" y="334.6" width="56.0" height="81.4" fill="#020278" stroke="#000" stroke-width="1.2"/>
<rect x="4117.5" y="847.5" width="16.5" height="10.5" fill="#b6eeee" stroke="#123" stroke-width="1"/>
<rect x="4269.0" y="1018.0" width="14.8" height="12.8" fill="#b6eeee" stroke="#123" stroke-width="1"/>
<rect x="4133.0" y="831.2" width="137.0" height="214.8" fill="#b3ecec" stroke="#0a1a1a" stroke-width="1.8" rx="13"/>
<path d="M4242.5,829 V844.4 A22,22 0 0 1 4220.5,866.4 H4170.8 A14.35,14.35 0 0 0 4170.8,895.1 H4232.6 A14.35,14.35 0 0 1 4232.6,923.9 H4170.8 A14.35,14.35 0 0 0 4170.8,952.6 H4232.6 A14.35,14.35 0 0 1 4232.6,981.4 H4170.8 A14.35,14.35 0 0 0 4170.8,1010.1 H4220.5 A22,22 0 0 1 4242.5,1032.1 V1048" fill="none" stroke="#00001c" stroke-width="16" stroke-linecap="butt" stroke-linejoin="round"/>
<path d="M4242.5,829 V844.4 A22,22 0 0 1 4220.5,866.4 H4170.8 A14.35,14.35 0 0 0 4170.8,895.1 H4232.6 A14.35,14.35 0 0 1 4232.6,923.9 H4170.8 A14.35,14.35 0 0 0 4170.8,952.6 H4232.6 A14.35,14.35 0 0 1 4232.6,981.4 H4170.8 A14.35,14.35 0 0 0 4170.8,1010.1 H4220.5 A22,22 0 0 1 4242.5,1032.1 V1048" fill="none" stroke="#2424b4" stroke-width="12.6" stroke-linecap="butt" stroke-linejoin="round"/>
<path d="M4242.5,829 V844.4 A22,22 0 0 1 4220.5,866.4 H4170.8 A14.35,14.35 0 0 0 4170.8,895.1 H4232.6 A14.35,14.35 0 0 1 4232.6,923.9 H4170.8 A14.35,14.35 0 0 0 4170.8,952.6 H4232.6 A14.35,14.35 0 0 1 4232.6,981.4 H4170.8 A14.35,14.35 0 0 0 4170.8,1010.1 H4220.5 A22,22 0 0 1 4242.5,1032.1 V1048" fill="none" stroke="#3a3ad8" stroke-width="8" stroke-linecap="butt" stroke-linejoin="round" transform="translate(-1,-1)"/>
<path d="M4242.5,829 V844.4 A22,22 0 0 1 4220.5,866.4 H4170.8 A14.35,14.35 0 0 0 4170.8,895.1 H4232.6 A14.35,14.35 0 0 1 4232.6,923.9 H4170.8 A14.35,14.35 0 0 0 4170.8,952.6 H4232.6 A14.35,14.35 0 0 1 4232.6,981.4 H4170.8 A14.35,14.35 0 0 0 4170.8,1010.1 H4220.5 A22,22 0 0 1 4242.5,1032.1 V1048" fill="none" stroke="#8c8cf8" stroke-width="2.6" stroke-linecap="butt" stroke-linejoin="round" transform="translate(-2.4,-2.4)"/>
<path d="M4242,1046 V1180.8 A38,38 0 0 1 4204,1218.8 H4178" fill="none" stroke="#00003c" stroke-width="13.6" stroke-linecap="butt" stroke-linejoin="round"/>
<path d="M4242,1046 V1180.8 A38,38 0 0 1 4204,1218.8 H4178" fill="none" stroke="#3a3ad4" stroke-width="11.399999999999999" stroke-linecap="butt" stroke-linejoin="round"/>
<path d="M4242,1046 V1180.8 A38,38 0 0 1 4204,1218.8 H4178" fill="none" stroke="#2020a4" stroke-width="4.08" stroke-linecap="butt" stroke-linejoin="round" transform="translate(2.7,-2.7)"/>
<path d="M4242,1046 V1180.8 A38,38 0 0 1 4204,1218.8 H4178" fill="none" stroke="#8888f8" stroke-width="2.3120000000000003" stroke-linecap="butt" stroke-linejoin="round" transform="translate(-2.7,2.7)"/>
<rect x="3203.4" y="821.4" width="686.2" height="742.2" fill="#616161" stroke="#000" stroke-width="2.8"/>
<path d="M3200.8,1144 V1312" fill="none" stroke="#000" stroke-width="1.6"/>
<rect x="3203.2" y="1563.6" width="65.6" height="129.4" fill="#5c5c5c" stroke="#000" stroke-width="2.4"/>
<rect x="3824.2" y="1563.6" width="65.6" height="129.4" fill="#6e6e6e" stroke="#000" stroke-width="2.4"/>
<rect x="3260.0" y="1068.0" width="558.5" height="321.5" fill="#62382c" stroke="#000" stroke-width="2.4"/>
<rect x="3263.0" y="1071.0" width="552.5" height="43.0" fill="#63392d" stroke="#2a1008" stroke-width="1"/>
<rect x="3263.0" y="1343.3" width="552.5" height="43.7" fill="#683c2e" stroke="#2a1008" stroke-width="1"/>
<rect x="3263.0" y="1114.0" width="552.5" height="97.5" fill="#700000" stroke="#1a0000" stroke-width="1.2"/>
<rect x="3263.0" y="1249.0" width="552.5" height="94.3" fill="url(#gred)" stroke="#1a0000" stroke-width="1.2"/>
<path d="M3336.3,1115 V1143.5 A24,24 0 0 0 3384.3,1143.5 V1115" fill="none" stroke="#1a0804" stroke-width="14.5"/>
<path d="M3336.3,1115 V1143.5 A24,24 0 0 0 3384.3,1143.5 V1115" fill="none" stroke="#6c3c30" stroke-width="10.5"/>
<path d="M3336.3,1342.5 V1313.5 A24,24 0 0 1 3384.3,1313.5 V1342.5" fill="none" stroke="#1a0804" stroke-width="14.5"/>
<path d="M3336.3,1342.5 V1313.5 A24,24 0 0 1 3384.3,1313.5 V1342.5" fill="none" stroke="#6c3c30" stroke-width="10.5"/>
<path d="M3465.6,1115 V1143.5 A24,24 0 0 0 3513.6,1143.5 V1115" fill="none" stroke="#1a0804" stroke-width="14.5"/>
<path d="M3465.6,1115 V1143.5 A24,24 0 0 0 3513.6,1143.5 V1115" fill="none" stroke="#6c3c30" stroke-width="10.5"/>
<path d="M3465.6,1342.5 V1313.5 A24,24 0 0 1 3513.6,1313.5 V1342.5" fill="none" stroke="#1a0804" stroke-width="14.5"/>
<path d="M3465.6,1342.5 V1313.5 A24,24 0 0 1 3513.6,1313.5 V1342.5" fill="none" stroke="#6c3c30" stroke-width="10.5"/>
<path d="M3594,1115 V1143.5 A24,24 0 0 0 3642,1143.5 V1115" fill="none" stroke="#1a0804" stroke-width="14.5"/>
<path d="M3594,1115 V1143.5 A24,24 0 0 0 3642,1143.5 V1115" fill="none" stroke="#6c3c30" stroke-width="10.5"/>
<path d="M3594,1342.5 V1313.5 A24,24 0 0 1 3642,1313.5 V1342.5" fill="none" stroke="#1a0804" stroke-width="14.5"/>
<path d="M3594,1342.5 V1313.5 A24,24 0 0 1 3642,1313.5 V1342.5" fill="none" stroke="#6c3c30" stroke-width="10.5"/>
<path d="M3723,1115 V1143.5 A24,24 0 0 0 3771,1143.5 V1115" fill="none" stroke="#1a0804" stroke-width="14.5"/>
<path d="M3723,1115 V1143.5 A24,24 0 0 0 3771,1143.5 V1115" fill="none" stroke="#6c3c30" stroke-width="10.5"/>
<path d="M3723,1342.5 V1313.5 A24,24 0 0 1 3771,1313.5 V1342.5" fill="none" stroke="#1a0804" stroke-width="14.5"/>
<path d="M3723,1342.5 V1313.5 A24,24 0 0 1 3771,1313.5 V1342.5" fill="none" stroke="#6c3c30" stroke-width="10.5"/>
<path d="M3263,1114 H3815.5 M3263,1343.3 H3815.5" fill="none" stroke="#100" stroke-width="1.6"/>
<rect x="1832.0" y="1219.0" width="1194.0" height="21.0" fill="url(#gbrn)" stroke="#1a0c04" stroke-width="1.4"/>
<path d="M2648,1219 L2656,1240 M2772.5,1219 V1240" fill="none" stroke="#100" stroke-width="1.8"/>
<rect x="3025.3" y="1215.3" width="40.5" height="27.4" fill="url(#grust)" stroke="#300c00" stroke-width="1.2" rx="3"/>
<rect x="2891.3" y="1157.1" width="11.4" height="43.9" fill="#6c6c6c" stroke="#1a1a1a" stroke-width="1.2" rx="2"/>
<rect x="2841.6" y="1199.8" width="44.4" height="57.6" fill="url(#ggrey)" stroke="#1c1c1c" stroke-width="1.4" rx="3"/>
<rect x="2886.0" y="1203.0" width="3.4" height="51.0" fill="#3a3a3a"/>
<rect x="2889.4" y="1200.3" width="15.0" height="57.1" fill="#646464" stroke="#1c1c1c" stroke-width="1.2"/>
<rect x="2904.4" y="1203.3" width="28.0" height="50.8" fill="url(#ggrey)" stroke="#1c1c1c" stroke-width="1.4" rx="3"/>
<rect x="3074.0" y="1211.0" width="960.0" height="36.0" fill="url(#gol)" stroke="#1a1a00" stroke-width="1.5" rx="2"/>
<path d="M3177.5,1211 V1247" fill="none" stroke="#0a0a00" stroke-width="2.4"/>
<rect x="3105.0" y="1200.5" width="44.5" height="57.0" fill="url(#ggrey)" stroke="#1c1c1c" stroke-width="1.4" rx="2"/>
<rect x="4093.0" y="1213.5" width="86.0" height="10.9" fill="#6c6c6c" stroke="#111" stroke-width="1.6"/>
<path d="M4090,1237.5 H4142.6 V1284.5" fill="none" stroke="#1c1c1c" stroke-width="10" stroke-linejoin="round" stroke-linecap="round"/>
<path d="M4090,1237.5 H4142.6 V1284.5" fill="none" stroke="#686868" stroke-width="7.4" stroke-linejoin="round" stroke-linecap="round"/>
<rect x="4032.0" y="1200.2" width="42.8" height="57.4" fill="url(#ggrey)" stroke="#1c1c1c" stroke-width="1.4" rx="3"/>
<rect x="4074.6" y="1202.0" width="8.4" height="53.5" fill="#161616" stroke="#000" stroke-width="1"/>
<rect x="4082.1" y="1199.3" width="11.7" height="58.3" fill="#6c6c6c" stroke="#1c1c1c" stroke-width="1.2" rx="2"/>
<rect x="1181.0" y="1693.5" width="2860.5" height="72.0" fill="#292929" stroke="#151515" stroke-width="1.2" rx="2"/>
<path d="M2966,1702h3v6h-3zM1925,1712h6v6h-6zM3655,1729h3v3h-3zM1641,1755h3v5h-3zM2878,1753h6v6h-6zM2310,1746h6v4h-6zM1805,1756h6v5h-6zM2385,1748h5v6h-5zM4004,1738h4v5h-4zM3929,1752h3v4h-3zM1542,1727h6v3h-6zM2166,1702h4v3h-4zM2907,1744h6v5h-6zM2754,1753h5v4h-5zM2893,1700h4v6h-4zM2017,1714h3v5h-3zM2496,1729h3v5h-3zM2413,1741h4v5h-4zM1221,1723h5v3h-5zM2258,1733h4v3h-4zM2918,1715h6v3h-6zM2863,1755h3v5h-3zM2222,1717h5v5h-5zM2042,1721h3v4h-3zM2120,1739h3v3h-3zM2895,1755h4v6h-4zM3297,1711h6v5h-6zM1828,1705h4v5h-4zM2155,1748h3v5h-3zM2863,1723h5v6h-5zM1289,1723h4v3h-4zM2545,1748h6v4h-6zM3717,1750h5v3h-5zM3491,1701h4v6h-4zM2618,1712h3v6h-3zM1339,1753h3v5h-3zM2188,1710h3v4h-3zM1869,1714h4v3h-4zM3338,1713h6v3h-6zM2532,1745h3v3h-3zM2560,1700h3v6h-3zM2086,1717h5v6h-5zM1731,1718h3v4h-3zM2767,1741h6v3h-6zM2997,1701h6v3h-6zM2246,1728h5v6h-5zM1809,1714h3v6h-3zM1826,1706h3v5h-3zM2507,1705h6v3h-6zM3273,1732h3v3h-3zM2686,1732h6v4h-6zM3517,1718h3v3h-3zM3458,1700h4v3h-4zM2764,1704h3v5h-3zM4025,1737h6v6h-6zM1907,1734h5v6h-5zM3586,1756h6v6h-6zM1632,1722h4v4h-4zM1575,1743h4v5h-4zM3845,1749h5v6h-5zM2061,1714h6v4h-6zM1678,1720h5v6h-5zM2518,1748h3v6h-3zM4010,1702h6v3h-6zM3913,1749h4v4h-4zM3393,1706h3v5h-3zM1447,1746h3v3h-3zM1939,1753h3v5h-3zM1272,1718h6v6h-6zM1410,1737h6v6h-6zM3079,1705h5v3h-5zM2688,1740h5v6h-5zM3331,1756h3v6h-3zM2634,1702h5v4h-5zM2242,1753h6v3h-6zM1496,1732h5v6h-5zM2076,1709h3v3h-3zM3222,1743h6v5h-6zM1308,1728h4v5h-4zM3675,1755h6v3h-6zM1957,1704h3v3h-3zM1713,1709h6v6h-6zM3456,1731h4v4h-4zM1762,1713h5v3h-5zM2086,1752h5v6h-5zM3965,1739h5v6h-5zM3378,1738h6v4h-6zM2676,1726h4v4h-4zM2797,1756h4v4h-4zM2516,1703h3v3h-3zM2719,1754h5v5h-5zM3662,1740h4v3h-4zM3290,1719h4v3h-4zM3636,1724h4v6h-4zM3590,1740h6v6h-6zM2533,1702h6v4h-6zM3340,1722h4v6h-4zM3744,1741h5v5h-5zM3944,1746h5v5h-5zM1596,1726h4v4h-4zM2998,1706h4v6h-4zM2581,1702h3v6h-3zM2334,1722h3v4h-3zM1875,1721h4v4h-4zM3483,1715h6v5h-6zM2577,1732h3v5h-3zM3127,1756h3v3h-3zM1274,1703h4v3h-4zM3745,1743h5v6h-5zM3795,1754h3v6h-3zM3880,1709h6v3h-6zM2630,1731h6v4h-6zM3813,1720h6v6h-6zM1840,1745h6v5h-6zM1309,1708h3v6h-3zM1449,1740h3v5h-3zM2467,1752h5v5h-5zM1193,1710h3v5h-3zM1872,1701h4v4h-4zM2852,1699h4v5h-4zM3429,1730h4v6h-4zM1693,1703h3v3h-3zM1498,1722h3v6h-3zM3352,1750h5v6h-5zM3562,1734h6v4h-6zM1520,1698h5v3h-5zM2390,1737h4v4h-4zM2184,1758h5v4h-5zM1658,1754h4v6h-4zM3835,1730h6v5h-6zM3728,1757h6v3h-6zM2018,1754h4v3h-4zM1303,1743h5v6h-5zM2417,1719h4v5h-4zM1408,1707h5v6h-5zM3972,1751h5v4h-5zM2210,1749h5v3h-5zM2504,1751h5v4h-5zM2976,1707h3v4h-3zM3888,1698h6v5h-6zM1714,1699h6v5h-6zM3563,1734h3v6h-3zM3242,1718h3v6h-3zM1294,1758h4v4h-4zM2756,1715h4v3h-4zM1236,1737h6v6h-6zM2661,1708h4v3h-4zM3131,1758h3v6h-3zM2474,1756h4v5h-4zM1585,1700h6v4h-6zM2088,1734h3v6h-3zM1544,1745h5v3h-5zM3734,1756h6v4h-6zM2073,1719h6v6h-6zM2090,1722h5v3h-5zM1562,1713h3v6h-3zM3300,1748h3v5h-3zM3957,1740h6v5h-6zM1684,1727h4v4h-4zM1614,1740h6v6h-6zM3346,1709h4v4h-4zM3674,1701h4v4h-4zM3995,1715h4v3h-4zM1601,1706h5v3h-5zM3973,1713h5v6h-5zM1483,1749h6v3h-6zM2507,1730h6v4h-6zM2707,1748h4v5h-4zM3926,1748h4v5h-4zM1944,1710h3v3h-3zM1637,1705h6v5h-6zM2681,1744h3v6h-3zM2106,1728h5v5h-5zM2868,1740h5v5h-5zM1538,1728h5v4h-5zM1991,1756h6v4h-6zM4015,1701h6v6h-6zM2751,1735h5v3h-5zM2230,1711h6v3h-6zM2413,1750h5v3h-5zM2247,1737h3v6h-3zM1603,1711h5v3h-5zM2099,1715h3v3h-3zM2719,1753h6v5h-6zM2152,1733h6v4h-6zM2539,1751h5v4h-5zM1268,1719h3v6h-3zM3554,1709h5v4h-5zM2428,1704h3v3h-3zM2443,1743h5v3h-5zM3537,1718h6v4h-6zM3701,1710h6v3h-6zM1700,1747h6v5h-6zM2165,1725h4v4h-4zM2950,1719h4v6h-4zM1358,1724h5v4h-5zM3853,1705h6v4h-6zM2084,1743h5v6h-5zM2329,1721h4v5h-4zM1901,1714h5v3h-5zM1886,1740h4v5h-4zM2920,1709h6v6h-6zM1347,1745h6v6h-6zM1239,1709h6v6h-6zM2342,1735h4v3h-4zM3225,1718h4v5h-4zM2976,1707h6v5h-6zM2588,1733h4v3h-4zM2727,1757h5v3h-5zM2390,1732h5v6h-5zM3171,1732h6v3h-6zM2109,1708h6v4h-6zM1492,1701h6v4h-6zM1659,1738h3v3h-3zM2317,1702h5v5h-5zM1843,1714h4v3h-4zM3924,1709h4v4h-4zM1890,1714h5v5h-5zM1829,1725h3v5h-3zM3543,1707h3v6h-3zM3305,1728h6v6h-6zM1920,1731h6v4h-6zM3436,1706h4v5h-4zM1919,1736h5v4h-5zM2404,1715h3v5h-3zM3088,1734h4v5h-4zM1208,1703h6v6h-6zM2759,1738h6v5h-6zM3128,1723h3v3h-3zM2145,1742h5v3h-5zM3847,1741h4v6h-4zM2474,1746h5v4h-5zM2085,1732h4v5h-4zM1462,1722h5v4h-5zM3070,1742h6v5h-6zM3462,1709h6v3h-6zM2664,1717h4v4h-4zM2229,1758h3v3h-3zM1246,1699h3v3h-3zM3202,1750h3v3h-3zM2042,1716h4v5h-4zM2966,1703h3v3h-3zM3305,1730h4v4h-4zM1423,1738h3v6h-3zM3083,1718h6v6h-6zM2511,1734h3v5h-3zM3313,1710h3v5h-3zM3302,1755h6v4h-6zM2925,1712h4v5h-4zM1467,1709h6v5h-6zM2413,1700h6v5h-6zM3758,1721h4v4h-4zM3256,1704h6v6h-6zM2547,1728h6v4h-6zM1740,1751h3v4h-3zM2314,1729h3v3h-3zM3764,1724h4v4h-4zM1801,1748h6v6h-6zM2751,1733h5v5h-5zM2758,1711h3v5h-3zM3617,1750h5v4h-5zM3289,1704h5v4h-5zM2630,1716h4v4h-4zM3328,1747h3v5h-3zM3761,1753h3v6h-3zM2402,1701h6v5h-6zM3810,1717h3v3h-3zM2387,1744h5v4h-5zM1680,1717h4v4h-4zM2120,1705h5v3h-5zM2571,1745h6v4h-6zM2560,1705h4v5h-4zM3593,1721h5v5h-5zM3267,1754h5v6h-5zM1399,1716h4v3h-4zM3063,1708h5v5h-5zM3680,1757h3v6h-3zM1657,1736h6v5h-6zM3675,1731h3v3h-3zM3720,1703h3v4h-3zM3460,1701h6v3h-6zM1538,1751h4v5h-4zM3172,1699h4v3h-4zM1805,1733h4v5h-4zM2949,1753h5v5h-5zM1410,1744h5v6h-5zM2144,1744h4v5h-4zM2247,1709h6v5h-6zM3807,1736h3v5h-3zM2440,1701h6v5h-6zM3596,1758h3v3h-3zM3499,1745h6v4h-6zM1189,1709h4v4h-4zM2481,1732h5v5h-5zM2112,1716h3v5h-3zM3413,1709h6v6h-6zM1872,1710h3v5h-3zM3688,1702h3v4h-3zM3608,1733h4v6h-4zM3208,1736h3v3h-3zM2810,1732h5v5h-5zM2835,1707h6v6h-6zM3959,1714h5v5h-5zM1538,1709h3v6h-3zM3140,1749h3v5h-3zM3865,1709h5v6h-5zM3315,1747h5v5h-5zM2006,1708h5v3h-5zM1579,1750h6v4h-6zM3323,1722h5v6h-5zM3043,1711h5v5h-5zM1925,1748h6v6h-6zM3989,1717h5v4h-5zM1737,1740h6v4h-6zM3663,1714h4v3h-4zM3981,1705h3v6h-3zM2948,1706h4v5h-4zM3780,1708h6v6h-6zM1739,1719h6v3h-6zM2775,1724h3v6h-3zM3620,1726h4v3h-4zM3125,1724h3v5h-3zM3342,1748h5v6h-5zM1327,1703h3v4h-3zM2196,1730h3v4h-3zM2310,1728h3v3h-3zM1498,1703h3v5h-3zM3102,1749h4v6h-4zM2609,1707h4v4h-4zM3019,1715h3v4h-3zM3009,1708h3v6h-3zM1501,1745h3v4h-3zM2772,1724h3v5h-3zM1443,1713h6v4h-6zM3067,1751h5v3h-5zM1545,1746h6v3h-6zM3651,1708h3v6h-3zM1273,1756h4v5h-4zM3788,1726h3v3h-3zM3463,1720h3v3h-3zM1924,1700h5v6h-5zM2982,1749h6v6h-6zM3034,1702h5v6h-5zM1629,1713h4v6h-4zM3921,1735h5v4h-5zM1743,1729h6v6h-6z" fill="#1d1d1d"/>
<path d="M1864,1731h5v6h-5zM2317,1750h4v4h-4zM3405,1747h5v6h-5zM3686,1704h4v6h-4zM2848,1752h3v5h-3zM2987,1757h5v5h-5zM2023,1744h3v3h-3zM4026,1717h3v3h-3zM2080,1756h6v6h-6zM2431,1713h5v5h-5zM2989,1718h5v5h-5zM1902,1725h5v4h-5zM2069,1711h5v4h-5zM3489,1756h3v5h-3zM3481,1748h4v5h-4zM2172,1723h6v6h-6zM1280,1725h5v5h-5zM2828,1699h3v4h-3zM1544,1756h6v3h-6zM2573,1732h6v3h-6zM3391,1701h3v3h-3zM3027,1733h5v5h-5zM2799,1701h6v6h-6zM3889,1723h3v4h-3zM2252,1752h5v3h-5zM2534,1712h6v3h-6zM3586,1738h5v5h-5zM3659,1709h3v4h-3zM3934,1721h4v6h-4zM1460,1743h6v4h-6zM2880,1733h5v4h-5zM3388,1707h6v4h-6zM2516,1712h4v3h-4zM1670,1701h4v6h-4zM2474,1742h5v3h-5zM1544,1717h5v3h-5zM2028,1739h5v3h-5zM3023,1742h4v4h-4zM2765,1737h6v6h-6zM1472,1714h3v4h-3zM2191,1749h3v4h-3zM3506,1743h4v6h-4zM3582,1725h6v6h-6zM1274,1709h3v3h-3zM1293,1728h6v3h-6zM2211,1712h3v6h-3zM3627,1734h3v3h-3zM2086,1745h6v3h-6zM3033,1716h6v6h-6zM2460,1720h6v4h-6zM1783,1708h6v4h-6zM2461,1722h3v4h-3zM2134,1705h3v3h-3zM2976,1719h3v3h-3zM2557,1709h5v4h-5zM2054,1734h6v3h-6zM3568,1750h6v5h-6zM1954,1708h6v6h-6zM1862,1749h3v3h-3zM2805,1705h3v4h-3zM3937,1711h6v5h-6zM3629,1704h5v3h-5zM2902,1725h3v5h-3zM2159,1710h3v5h-3zM2412,1703h4v5h-4zM3882,1752h6v6h-6zM1268,1707h3v6h-3zM1594,1725h6v6h-6zM2414,1754h6v4h-6zM3831,1729h3v4h-3zM3971,1745h3v6h-3zM2074,1713h6v6h-6zM3898,1743h6v5h-6zM2669,1743h6v5h-6zM3388,1725h5v5h-5zM3540,1754h5v3h-5zM2425,1703h3v6h-3zM2087,1714h3v5h-3zM1841,1710h3v3h-3zM3984,1726h5v3h-5zM3027,1707h3v4h-3zM2275,1704h6v4h-6zM3844,1698h5v4h-5zM3289,1730h6v6h-6zM3839,1749h4v5h-4zM2351,1750h3v3h-3zM2724,1724h4v4h-4zM2003,1757h5v4h-5zM2546,1730h4v6h-4zM1860,1721h4v3h-4zM2042,1728h6v6h-6zM2935,1706h3v4h-3zM3542,1748h4v6h-4zM1521,1708h3v6h-3zM2293,1729h6v5h-6zM3603,1717h6v3h-6zM1335,1729h4v3h-4zM2817,1719h4v5h-4zM2591,1749h4v3h-4zM1890,1751h3v4h-3zM1778,1716h4v4h-4zM2887,1736h6v5h-6zM1819,1747h6v5h-6zM1494,1730h5v6h-5zM3183,1757h5v5h-5zM2549,1732h4v5h-4zM2726,1726h6v5h-6zM2757,1705h6v5h-6zM2543,1724h5v5h-5zM3754,1704h4v3h-4zM1954,1729h5v6h-5zM1320,1708h3v4h-3zM1523,1711h3v6h-3zM1577,1735h4v3h-4zM1688,1748h3v5h-3zM1314,1711h3v6h-3zM1841,1723h3v6h-3zM1746,1732h5v6h-5zM1995,1754h4v6h-4zM2608,1727h4v6h-4zM2167,1716h6v6h-6zM3928,1709h3v4h-3zM1382,1739h3v6h-3zM2057,1742h5v6h-5zM3234,1734h4v3h-4zM2414,1723h5v6h-5zM1837,1710h3v6h-3zM2536,1701h4v3h-4zM1484,1711h5v4h-5zM2085,1725h3v5h-3zM1753,1710h6v4h-6zM3556,1710h6v3h-6zM2165,1715h5v4h-5zM2832,1748h4v6h-4zM1901,1705h3v3h-3zM2344,1718h5v3h-5zM3597,1727h6v4h-6zM2792,1730h3v6h-3zM1410,1730h4v5h-4zM3303,1746h6v6h-6zM3548,1715h5v3h-5zM3191,1743h5v5h-5zM2453,1729h6v4h-6zM3480,1712h5v5h-5zM2877,1722h6v4h-6zM2943,1728h6v4h-6zM1763,1714h4v5h-4zM3063,1747h3v3h-3zM2071,1757h6v5h-6zM1295,1707h3v4h-3zM3323,1712h5v4h-5zM1353,1753h3v3h-3zM3303,1722h6v4h-6zM3291,1754h5v4h-5zM1884,1707h5v4h-5zM3347,1722h4v6h-4zM1625,1719h3v5h-3zM3040,1711h4v5h-4zM3612,1700h5v5h-5zM1930,1712h6v3h-6zM2082,1747h5v6h-5zM2734,1750h5v5h-5zM1746,1712h3v4h-3zM3518,1710h6v4h-6zM1711,1739h3v6h-3zM2956,1747h5v3h-5zM3568,1731h5v4h-5zM1532,1756h4v4h-4zM2899,1705h4v6h-4zM3515,1747h5v6h-5zM3863,1717h3v4h-3zM1330,1719h5v4h-5zM3096,1756h6v5h-6zM3899,1736h5v4h-5z" fill="#232323"/>
<path d="M1183,1697 H4040" fill="none" stroke="#363636" stroke-width="1.5"/>
<rect x="962.5" y="1261.0" width="1573.5" height="22.5" fill="url(#grail)" stroke="#000" stroke-width="1.5" rx="3"/>
<rect x="1370.0" y="1353.0" width="1029.0" height="37.0" fill="url(#gscr)" stroke="#15151a" stroke-width="1.4" rx="2"/>
<path d="M1400.0,1354 L1411.0,1389.5 M1425.6,1354 L1436.6,1389.5 M1451.2,1354 L1462.2,1389.5 M1476.8,1354 L1487.8,1389.5 M1502.4,1354 L1513.4,1389.5 M1528.0,1354 L1539.0,1389.5 M1553.6,1354 L1564.6,1389.5 M1579.2,1354 L1590.2,1389.5 M1604.8,1354 L1615.8,1389.5 M1630.4,1354 L1641.4,1389.5 M1656.0,1354 L1667.0,1389.5 M1681.6,1354 L1692.6,1389.5 M1707.2,1354 L1718.2,1389.5 M1732.8,1354 L1743.8,1389.5 M1758.4,1354 L1769.4,1389.5 M1784.0,1354 L1795.0,1389.5 M1809.6,1354 L1820.6,1389.5 M1835.2,1354 L1846.2,1389.5 M1860.8,1354 L1871.8,1389.5 M1886.4,1354 L1897.4,1389.5 M1912.0,1354 L1923.0,1389.5 M1937.6,1354 L1948.6,1389.5 M1963.2,1354 L1974.2,1389.5 M1988.8,1354 L1999.8,1389.5 M2014.4,1354 L2025.4,1389.5 M2040.0,1354 L2051.0,1389.5 M2065.6,1354 L2076.6,1389.5 M2091.2,1354 L2102.2,1389.5 M2116.8,1354 L2127.8,1389.5 M2142.4,1354 L2153.4,1389.5 M2168.0,1354 L2179.0,1389.5 M2193.6,1354 L2204.6,1389.5 M2219.2,1354 L2230.2,1389.5 M2244.8,1354 L2255.8,1389.5 M2270.4,1354 L2281.4,1389.5 M2296.0,1354 L2307.0,1389.5 M2321.6,1354 L2332.6,1389.5 M2347.2,1354 L2358.2,1389.5 M2372.8,1354 L2383.8,1389.5 " fill="none" stroke="#26262c" stroke-width="6.5"/>
<path d="M1407.5,1354 L1418.5,1389.5 M1433.1,1354 L1444.1,1389.5 M1458.7,1354 L1469.7,1389.5 M1484.3,1354 L1495.3,1389.5 M1509.9,1354 L1520.9,1389.5 M1535.5,1354 L1546.5,1389.5 M1561.1,1354 L1572.1,1389.5 M1586.7,1354 L1597.7,1389.5 M1612.3,1354 L1623.3,1389.5 M1637.9,1354 L1648.9,1389.5 M1663.5,1354 L1674.5,1389.5 M1689.1,1354 L1700.1,1389.5 M1714.7,1354 L1725.7,1389.5 M1740.3,1354 L1751.3,1389.5 M1765.9,1354 L1776.9,1389.5 M1791.5,1354 L1802.5,1389.5 M1817.1,1354 L1828.1,1389.5 M1842.7,1354 L1853.7,1389.5 M1868.3,1354 L1879.3,1389.5 M1893.9,1354 L1904.9,1389.5 M1919.5,1354 L1930.5,1389.5 M1945.1,1354 L1956.1,1389.5 M1970.7,1354 L1981.7,1389.5 M1996.3,1354 L2007.3,1389.5 M2021.9,1354 L2032.9,1389.5 M2047.5,1354 L2058.5,1389.5 M2073.1,1354 L2084.1,1389.5 M2098.7,1354 L2109.7,1389.5 M2124.3,1354 L2135.3,1389.5 M2149.9,1354 L2160.9,1389.5 M2175.5,1354 L2186.5,1389.5 M2201.1,1354 L2212.1,1389.5 M2226.7,1354 L2237.7,1389.5 M2252.3,1354 L2263.3,1389.5 M2277.9,1354 L2288.9,1389.5 M2303.5,1354 L2314.5,1389.5 M2329.1,1354 L2340.1,1389.5 M2354.7,1354 L2365.7,1389.5 M2380.3,1354 L2391.3,1389.5 " fill="none" stroke="#9ca2ac" stroke-width="1.2"/>
<rect x="1353.0" y="1361.0" width="18.0" height="13.0" fill="#1a6a22" stroke="#021" stroke-width="1"/>
<rect x="1335.0" y="1339.0" width="19.0" height="66.5" fill="url(#gmot)" stroke="#021" stroke-width="1.2" rx="4"/>
<path d="M1198.5,1308.5 H1322 L1335.6,1322 V1422.5 L1322,1436 H1198.5 L1185,1422.5 V1322 Z" fill="url(#gmot)" stroke="#010" stroke-width="1.6"/>
<rect x="1218.0" y="1309.5" width="87.5" height="125.5" fill="#040804"/>
<path d="M1219,1316.0 H1305 M1219,1325.3 H1305 M1219,1334.6 H1305 M1219,1343.9 H1305 M1219,1353.2 H1305 M1219,1362.5 H1305 M1219,1371.8 H1305 M1219,1381.1 H1305 M1219,1390.4 H1305 M1219,1399.7 H1305 M1219,1409.0 H1305 M1219,1418.3 H1305 M1219,1427.6 H1305 " fill="none" stroke="#186a22" stroke-width="3.2"/>
<path d="M1198.5,1309 V1435.5 M1322,1309 V1435.5" fill="none" stroke="#06300c" stroke-width="1.4"/>
<rect x="1234.0" y="1423.0" width="34.5" height="42.0" fill="#c6eded" stroke="#fff" stroke-width="0"/>
<rect x="1240.0" y="1428.0" width="22.0" height="37.0" fill="#c6eded"/>
<path d="M1234,1465 V1423 H1268.5 V1465" fill="none" stroke="#f2fbfb" stroke-width="4"/>
<rect x="1239.0" y="1427.0" width="24.0" height="38.0" fill="#c6eded"/>
<path d="M1135,1479 L1139,1465 H1436 V1479 Z" fill="#c6eded" stroke="#000" stroke-width="1.5"/>
<path d="M1135,1479 L1139,1465 L1146,1465 Z" fill="#111"/>
<path d="M1310,1479 L1436,1539 V1520 L1352.5,1479 Z" fill="#c6eded" stroke="#000" stroke-width="1.5"/>
<path d="M1436,1465 H2365 V1693 H2327.5 L2244,1544 H1559 L1475,1693 H1436 Z" fill="#c6eded" stroke="#000" stroke-width="1.6"/>
<rect x="1421.0" y="1250.5" width="15.0" height="257.0" fill="#d4f2f2" stroke="#000" stroke-width="1.4"/>
<rect x="2365.0" y="1250.5" width="14.0" height="257.0" fill="#d4f2f2" stroke="#000" stroke-width="1.4"/>
<rect x="1546.5" y="1245.5" width="15.0" height="154.5" fill="#73738a" stroke="#15151c" stroke-width="1.4"/>
<rect x="2498.5" y="1196.0" width="15.5" height="100.0" fill="#73738a" stroke="#15151c" stroke-width="1.4"/>
<path d="M125.30000000000001,1026 V1091.7 C125.30000000000001,1102.7 116.30000000000001,1107.7 103.30000000000001,1114.7 C90.30000000000001,1121.7 82.30000000000001,1125.2 74.30000000000001,1130.2 C65.30000000000001,1136.2 57.70000000000002,1144.7 57.70000000000002,1158.7 V1790 Q57.70000000000002,1802.5 70.70000000000002,1802.5 H201.9 Q214.9,1802.5 214.9,1790 V1158.7 C214.9,1144.7 207.3,1136.2 198.3,1130.2 C190.3,1125.2 182.3,1121.7 169.3,1114.7 C156.3,1107.7 147.3,1102.7 147.3,1091.7 V1026 Z" fill="url(#gc136)" stroke="#000" stroke-width="1.6"/>
<ellipse cx="98.30000000000001" cy="1144.7" rx="26" ry="8" fill="#5c5ce0" opacity="0.5"/>
<ellipse cx="180.3" cy="1134.7" rx="20" ry="7" fill="#5c5ce0" opacity="0.5"/>
<ellipse cx="136.3" cy="1146.7" rx="68.6" ry="11" fill="#1c1e98" opacity="0.5"/>
<path d="M57.70000000000002,1158.7 H214.9" fill="none" stroke="#000" stroke-width="1.8"/>
<path d="M59.70000000000002,1791.5 H212.9" fill="none" stroke="#000" stroke-width="1.6"/>
<rect x="122.3" y="1004.0" width="28.0" height="22.0" fill="#02027a" stroke="#000" stroke-width="1.4" rx="2"/>
<path d="M128.3,1005 V1025 M134.3,1005 V1025 M141.3,1005 V1025" fill="none" stroke="#000069" stroke-width="1.6"/>
<path d="M227.5,961 V1104 L232,1112 L236.5,1104 V961 Z" fill="#64646c" stroke="#18181c" stroke-width="1.2"/>
<rect x="143.3" y="1030.4" width="48.7" height="19.9" fill="#04047e" stroke="#000" stroke-width="1.2" rx="7"/>
<path d="M220,1058 L231,1073" fill="none" stroke="#000" stroke-width="11" stroke-linecap="round"/>
<path d="M220,1058 L231,1073" fill="none" stroke="#04047e" stroke-width="8.6" stroke-linecap="round"/>
<path d="M202,1008 L206,1018" fill="none" stroke="#000" stroke-width="7"/>
<path d="M202,1008 L206,1018" fill="none" stroke="#04047e" stroke-width="5"/>
<circle cx="198.4" cy="989.8" r="21.4" fill="#04047e" stroke="#000" stroke-width="1.4"/>
<circle cx="254.4" cy="1018.3" r="21.4" fill="#04047e" stroke="#000" stroke-width="1.4"/>
<circle cx="208.4" cy="1040.4" r="25.0" fill="#04047e" stroke="#000" stroke-width="1.4"/>
<path d="M206.4,967.4 L261.2,1039.8" fill="none" stroke="#000" stroke-width="3"/>
<path d="M368,1026 V1084 C368,1095 359,1100 346,1107 C333,1114 325,1117.5 317,1122.5 C308,1128.5 300.4,1137 300.4,1151 V1790 Q300.4,1802.5 313.4,1802.5 H444.6 Q457.6,1802.5 457.6,1790 V1151 C457.6,1137 450,1128.5 441,1122.5 C433,1117.5 425,1114 412,1107 C399,1100 390,1095 390,1084 V1026 Z" fill="url(#gc379)" stroke="#000" stroke-width="1.6"/>
<ellipse cx="341" cy="1137" rx="26" ry="8" fill="#8a8a8a" opacity="0.5"/>
<ellipse cx="423" cy="1127" rx="20" ry="7" fill="#8a8a8a" opacity="0.5"/>
<ellipse cx="379" cy="1139" rx="68.6" ry="11" fill="#4e4e4e" opacity="0.5"/>
<path d="M300.4,1151 H457.6" fill="none" stroke="#000" stroke-width="1.8"/>
<path d="M302.4,1783 H455.6" fill="none" stroke="#000" stroke-width="1.6"/>
<rect x="365.0" y="1004.0" width="28.0" height="22.0" fill="#3c3c3c" stroke="#000" stroke-width="1.4" rx="2"/>
<path d="M371,1005 V1025 M377,1005 V1025 M384,1005 V1025" fill="none" stroke="#363636" stroke-width="1.6"/>
<path d="M471.0,961 V1104 L475.5,1112 L480.0,1104 V961 Z" fill="#64646c" stroke="#18181c" stroke-width="1.2"/>
<rect x="386.0" y="1030.4" width="49.5" height="19.9" fill="#3f3f3f" stroke="#000" stroke-width="1.2" rx="7"/>
<path d="M463.5,1058 L474.5,1073" fill="none" stroke="#000" stroke-width="11" stroke-linecap="round"/>
<path d="M463.5,1058 L474.5,1073" fill="none" stroke="#3f3f3f" stroke-width="8.6" stroke-linecap="round"/>
<path d="M445.5,1008 L449.5,1018" fill="none" stroke="#000" stroke-width="7"/>
<path d="M445.5,1008 L449.5,1018" fill="none" stroke="#3f3f3f" stroke-width="5"/>
<circle cx="441.9" cy="989.8" r="21.4" fill="#3f3f3f" stroke="#000" stroke-width="1.4"/>
<circle cx="497.9" cy="1018.3" r="21.4" fill="#3f3f3f" stroke="#000" stroke-width="1.4"/>
<circle cx="451.9" cy="1040.4" r="25.0" fill="#3f3f3f" stroke="#000" stroke-width="1.4"/>
<path d="M430.7,1025 L477.4,1056.8" fill="none" stroke="#000" stroke-width="3"/>
<path d="M617.3,1026 V1084.8 C617.3,1095.8 608.3,1100.8 595.3,1107.8 C582.3,1114.8 574.3,1118.3 566.3,1123.3 C557.3,1129.3 549.6999999999999,1137.8 549.6999999999999,1151.8 V1790 Q549.6999999999999,1802.5 562.6999999999999,1802.5 H693.9 Q706.9,1802.5 706.9,1790 V1151.8 C706.9,1137.8 699.3,1129.3 690.3,1123.3 C682.3,1118.3 674.3,1114.8 661.3,1107.8 C648.3,1100.8 639.3,1095.8 639.3,1084.8 V1026 Z" fill="url(#gc628)" stroke="#000" stroke-width="1.6"/>
<ellipse cx="590.3" cy="1137.8" rx="26" ry="8" fill="#9a9aac" opacity="0.5"/>
<ellipse cx="672.3" cy="1127.8" rx="20" ry="7" fill="#9a9aac" opacity="0.5"/>
<ellipse cx="628.3" cy="1139.8" rx="68.6" ry="11" fill="#727080" opacity="0.5"/>
<path d="M549.6999999999999,1151.8 H706.9" fill="none" stroke="#000" stroke-width="1.8"/>
<path d="M551.6999999999999,1783 H704.9" fill="none" stroke="#000" stroke-width="1.6"/>
<rect x="614.3" y="1004.0" width="28.0" height="22.0" fill="#646270" stroke="#000" stroke-width="1.4" rx="2"/>
<path d="M620.3,1005 V1025 M626.3,1005 V1025 M633.3,1005 V1025" fill="none" stroke="#5a5866" stroke-width="1.6"/>
<path d="M720.0,961 V1104 L724.5,1112 L729.0,1104 V961 Z" fill="#64646c" stroke="#18181c" stroke-width="1.2"/>
<rect x="635.3" y="1030.4" width="49.2" height="19.9" fill="#66657a" stroke="#000" stroke-width="1.2" rx="7"/>
<path d="M712.5,1058 L723.5,1073" fill="none" stroke="#000" stroke-width="11" stroke-linecap="round"/>
<path d="M712.5,1058 L723.5,1073" fill="none" stroke="#66657a" stroke-width="8.6" stroke-linecap="round"/>
<path d="M694.5,1008 L698.5,1018" fill="none" stroke="#000" stroke-width="7"/>
<path d="M694.5,1008 L698.5,1018" fill="none" stroke="#66657a" stroke-width="5"/>
<circle cx="690.9" cy="989.8" r="21.4" fill="#66657a" stroke="#000" stroke-width="1.4"/>
<circle cx="746.9" cy="1018.3" r="21.4" fill="#66657a" stroke="#000" stroke-width="1.4"/>
<circle cx="700.9" cy="1040.4" r="25.0" fill="#66657a" stroke="#000" stroke-width="1.4"/>
</svg></body></html>
